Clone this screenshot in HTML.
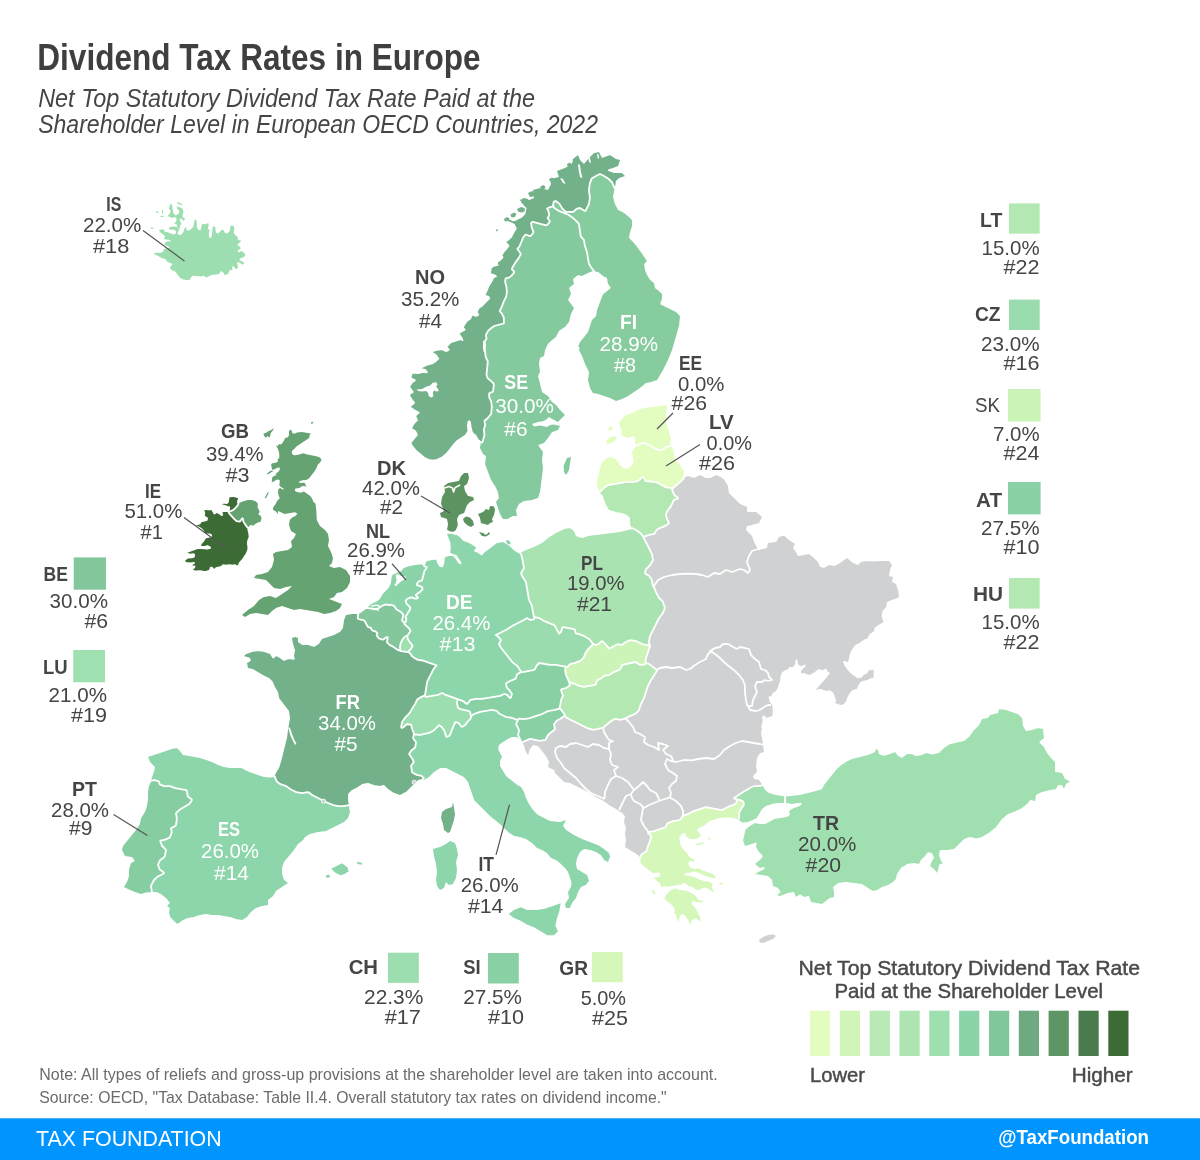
<!DOCTYPE html>
<html lang="en">
<head>
<meta charset="utf-8">
<title>Dividend Tax Rates in Europe</title>
<style>
html,body{margin:0;padding:0;background:#fff;}
body{width:1200px;height:1160px;position:relative;overflow:hidden;font-family:"Liberation Sans", "DejaVu Sans", sans-serif;}
#chart{position:absolute;left:0;top:0;width:1200px;height:1160px;display:block;font-family:"Liberation Sans", "DejaVu Sans", sans-serif;}
#chart text{stroke:none;}
</style>
</head>
<body>
<svg id="chart" width="1200" height="1160" viewBox="0 0 1200 1160">
<rect x="0" y="0" width="1200" height="1160" fill="#fff"/>
<g id="header">
<text x="37.3" y="70.1" font-size="37.8" textLength="443.2" lengthAdjust="spacingAndGlyphs" fill="#3f3f3f" font-weight="bold">Dividend Tax Rates in Europe</text>
<text x="38.2" y="106.7" font-size="26.4" textLength="496.8" lengthAdjust="spacingAndGlyphs" fill="#454545" font-style="italic">Net Top Statutory Dividend Tax Rate Paid at the</text>
<text x="38.2" y="132.8" font-size="26.4" textLength="559.8" lengthAdjust="spacingAndGlyphs" fill="#454545" font-style="italic">Shareholder Level in European OECD Countries, 2022</text>
</g>
<g id="map" stroke="#fff" stroke-width="1.8" stroke-linejoin="round">
<path id="grey" fill="#cfd1d2" d="M554.0,771.1L553.3,771.5L553.1,772.1L553.4,772.6L563.4,782.6L563.9,782.9L569.7,783.9L589.5,793.8L595.5,797.7L601.5,800.8L608.5,805.7L615.5,809.8L619.5,812.7L620.6,812.9L624.0,816.3L623.1,822.3L625.1,828.1L624.1,833.9L625.1,840.0L624.1,846.9L624.5,847.8L634.5,853.7L638.2,856.5L639.1,860.1L639.1,861.0L639.4,861.7L640.1,861.9L647.1,860.9L647.8,860.5L656.8,845.5L662.6,836.7L688.4,820.8L700.2,815.9L715.1,814.9L730.5,812.7L742.5,804.7L752.5,797.7L763.6,786.6L763.9,786.1L762.7,783.5L759.7,779.5L759.2,779.1L754.7,778.2L754.0,776.2L757.6,772.6L757.9,771.9L756.9,766.0L757.9,758.3L760.6,753.8L764.2,752.9L764.7,752.5L764.9,751.9L763.9,743.9L761.9,733.0L762.9,728.2L762.7,727.5L762.1,727.1L763.6,720.5L763.0,717.3L763.9,716.4L765.3,718.2L766.2,718.6L769.7,717.8L773.4,716.2L773.6,709.0L772.9,704.2L770.8,701.8L769.6,698.1L769.6,697.0L770.5,697.8L771.1,697.8L771.5,697.4L773.4,693.6L776.1,692.1L778.1,689.5L780.9,681.2L781.6,675.8L782.8,672.8L785.8,671.0L789.1,669.7L789.6,669.0L789.8,667.7L790.4,668.4L791.0,668.4L793.6,667.7L794.2,667.3L796.2,664.0L796.3,660.4L796.6,660.4L797.2,665.0L797.8,665.7L801.1,667.0L801.8,667.0L804.9,665.5L800.6,670.0L799.9,673.4L800.0,674.0L800.4,674.4L801.0,674.4L804.0,673.8L806.6,675.1L810.0,675.8L810.6,675.7L814.0,673.6L818.9,669.9L821.1,671.0L821.7,671.1L824.4,670.4L825.8,669.6L826.7,671.9L827.1,672.4L828.8,673.2L824.2,679.0L820.9,682.3L814.8,689.4L814.6,690.1L815.0,690.7L815.7,690.9L819.5,689.9L822.6,690.5L825.8,691.8L829.4,691.2L831.6,692.3L833.4,694.7L834.0,697.8L835.2,700.9L834.1,702.5L834.0,703.3L834.6,703.8L837.2,704.5L839.8,705.8L840.4,705.9L843.7,705.2L844.3,704.9L846.9,701.5L848.4,697.3L849.7,694.8L851.6,692.2L854.0,690.4L857.1,689.8L857.8,689.3L859.1,686.0L860.9,682.9L863.2,681.8L867.4,681.0L871.3,679.1L873.9,678.4L874.3,678.1L874.5,677.6L874.5,669.5L874.2,668.9L873.5,668.7L868.8,669.3L868.2,669.8L866.4,672.8L863.6,673.7L861.1,676.7L857.8,677.3L854.1,674.8L850.9,672.2L847.6,668.3L845.0,664.4L844.1,662.1L844.8,661.8L847.2,663.0L847.9,663.0L848.4,662.6L849.8,659.7L850.4,655.7L851.7,651.9L853.7,648.7L856.1,645.6L859.5,644.2L864.7,640.3L868.0,639.0L868.4,638.5L870.3,634.7L874.1,632.2L874.5,631.7L875.7,628.0L879.5,625.5L884.1,622.9L884.5,622.4L884.5,621.8L882.6,616.6L883.2,611.8L887.0,607.3L887.8,602.7L894.1,600.2L899.4,597.8L899.8,597.4L899.9,596.9L898.9,589.9L896.9,583.7L896.4,583.2L893.0,581.5L893.9,577.2L893.8,576.5L893.2,576.1L890.0,575.3L890.9,570.2L892.8,565.3L892.7,564.5L889.7,560.5L889.0,560.1L881.9,560.1L874.0,560.7L865.8,560.1L860.8,561.1L857.8,563.9L853.5,562.2L847.6,557.3L847.0,557.1L846.5,557.3L839.5,562.2L834.8,565.1L829.1,564.1L828.5,564.2L823.9,567.0L820.7,566.2L818.6,561.4L814.6,557.3L809.6,553.3L808.8,553.1L798.5,555.0L796.7,551.5L794.1,547.9L795.8,544.4L795.9,543.8L795.5,543.3L789.5,539.3L784.6,534.9L783.8,534.7L778.8,536.1L778.2,536.5L775.5,541.2L767.9,542.1L767.4,542.3L767.1,542.8L766.2,547.3L760.0,548.7L758.6,548.2L755.8,543.6L752.8,535.7L747.0,529.7L747.7,526.8L752.2,525.9L759.2,523.9L759.8,523.4L762.8,517.4L762.9,516.8L762.6,516.3L756.6,511.3L756.0,511.1L747.9,511.1L747.9,507.0L747.4,506.2L740.5,503.2L729.8,492.6L728.8,485.6L724.4,478.2L721.8,476.9L721.8,476.6L721.3,476.2L716.3,474.2L715.5,474.2L710.8,477.1L706.2,477.1L700.4,474.2L699.6,474.2L693.9,477.0L688.3,475.1L687.7,475.2L682.7,477.1L671.8,479.1L671.3,479.5L649.3,509.5L624.3,544.5L624.1,545.1L629.1,599.8L599.2,659.5L564.3,699.4L521.4,741.0L521.1,741.4L523.2,746.3L525.1,752.3L527.3,755.5L527.8,755.9L528.4,755.8L528.9,755.3L530.8,749.4L533.4,746.0L537.5,746.8L545.2,756.5L548.1,762.1L547.1,766.8L547.2,767.4L547.6,767.8Z"/>
<path id="CY" fill="#cfd1d2" stroke="none" d="M759.0,940.0L763.0,937.0L768.0,935.0L774.0,934.4L776.0,936.0L773.0,939.0L763.0,943.0L760.0,942.4Z"/>
<path fill="none" d="M653.0,587.0L658.0,580.0L664.0,577.0L672.0,575.0L680.0,574.0L688.0,573.6L696.0,574.0L702.0,575.0L708.0,577.0L714.0,573.0L720.0,574.0L726.0,570.0L732.0,572.0L740.0,569.0L744.0,570.0L748.0,573.0L750.0,570.0L747.0,562.0L749.0,556.0L752.0,551.0L758.0,549.0L760.0,549.6"/>
<path fill="none" d="M656.0,670.4L660.0,668.0L666.0,667.0L672.0,668.0L680.0,667.0L686.0,670.0L690.0,669.0L695.0,665.0L700.0,662.0L706.0,659.0L708.0,654.0L712.0,651.0L710.0,651.0L715.0,648.0L720.0,647.0L723.0,644.0L728.0,644.0L733.0,647.0L737.0,649.0L740.0,647.0L745.0,648.0L749.0,649.0L751.0,655.0L755.0,659.0L759.0,662.0L761.0,669.0L765.0,670.0L768.0,673.0L769.0,677.0L772.0,680.0L768.0,681.0L765.0,680.0L762.0,682.0L757.0,682.0L755.0,686.0L757.0,692.0L755.0,696.0L753.0,700.0L752.0,706.0L749.0,706.0L748.0,706.0"/>
<path fill="none" d="M710.0,651.0L715.0,654.0L720.0,658.0L725.0,663.0L730.0,667.0L735.0,671.0L739.0,675.0L743.0,680.0L745.0,686.0L745.0,693.0L746.0,700.0L747.0,705.0L748.0,706.0L750.0,710.0L756.0,711.0L760.0,710.0L764.0,707.0L768.0,705.0L771.0,705.0"/>
<path fill="none" d="M671.0,761.0L676.0,762.0L684.0,760.0L692.0,760.4L698.0,759.0L706.0,758.0L714.0,759.0L720.0,755.0L724.0,750.0L730.0,746.0L736.0,743.0L742.0,741.0L748.0,742.0L754.0,743.0L760.0,744.0L764.0,745.0"/>
<path fill="none" d="M625.0,718.0L629.0,722.0L633.0,727.0L635.0,732.0L640.0,734.0L645.0,737.0L644.0,742.0L648.0,745.0L654.0,747.0L659.0,750.0L658.0,743.0L663.0,744.0L668.0,746.0L663.0,750.0L666.0,754.0L671.0,756.0L673.0,760.0L671.0,761.0L667.0,759.0L665.0,764.0L668.0,770.0L673.0,773.0L677.0,776.0L676.0,781.0L672.0,784.0L669.0,788.0L671.0,793.0L670.0,797.4L676.0,801.0L681.0,806.0L683.0,811.0L683.0,816.4"/>
<path fill="none" d="M670.0,797.4L665.0,799.0L659.0,801.0L654.0,803.0L649.0,805.0L644.0,808.0L643.0,808.0L642.0,814.0L641.0,820.0L644.0,826.0L647.0,830.0L649.0,833.0"/>
<path fill="none" d="M644.0,808.0L640.0,804.0L634.0,801.0L632.0,798.0L631.0,794.0L634.0,790.0L639.0,786.0L643.0,782.0L647.0,786.0L650.0,790.0L656.0,793.0L659.0,799.0L659.0,801.0"/>
<path fill="none" d="M619.0,810.0L621.0,806.0L624.0,800.0L626.0,796.0L631.0,794.0"/>
<path fill="none" d="M634.0,790.0L631.0,786.0L628.0,782.0L622.0,778.0L616.0,776.0L611.0,779.0L608.0,785.0L605.0,792.0L604.4,799.0"/>
<path fill="none" d="M616.0,776.0L614.0,770.0L618.0,767.0L612.0,765.0L610.0,760.0L611.0,754.0L609.0,749.0L604.0,748.0L599.0,745.0L593.0,744.0L588.0,747.0L582.0,745.0L576.0,743.0L570.0,744.0L566.0,747.0L560.0,746.0L556.0,748.0L555.0,752.0L557.0,758.0L561.0,763.0L564.0,768.0L570.0,773.0L576.0,778.0L581.0,784.0L586.0,789.0L591.0,793.0L598.0,796.0L604.4,799.0"/>
<path fill="none" d="M603.0,727.0L604.0,732.0L607.0,737.0L609.0,740.0L613.0,741.0L609.0,743.0L609.0,749.0"/>
<path id="FR" fill="#73b18a" d="M273.2,776.6L273.2,777.3L275.5,782.7L279.5,785.7L285.6,787.8L289.6,790.8L295.6,793.8L301.9,794.9L307.8,794.0L311.6,796.8L327.6,804.8L332.7,806.8L338.0,807.9L344.2,807.9L349.2,806.9L349.7,806.6L349.9,805.4L348.9,799.9L348.9,794.4L352.5,790.7L358.4,787.8L362.4,784.9L367.9,783.9L373.7,785.9L379.9,786.9L383.7,786.0L387.5,789.7L393.5,793.7L399.7,795.9L400.4,795.8L406.6,792.6L418.5,780.8L421.6,780.0L422.2,781.1L423.0,781.5L423.7,781.1L425.7,778.5L425.9,777.9L425.6,777.4L422.6,774.4L417.3,773.1L413.8,771.4L413.0,766.2L415.7,762.5L415.8,761.6L413.8,757.6L411.1,754.0L412.7,751.6L416.5,748.7L416.9,748.1L417.9,742.1L417.7,741.5L415.0,737.8L415.9,733.8L415.8,733.2L413.9,728.7L412.9,723.8L412.2,723.1L407.2,722.1L406.4,722.3L403.4,724.8L403.8,722.4L406.7,718.6L410.8,714.5L416.8,704.5L418.7,700.6L421.4,698.8L426.7,696.5L428.9,682.3L434.8,670.5L438.7,665.6L438.9,664.8L438.3,664.2L424.3,659.1L419.1,657.6L418.4,657.6L418.1,658.0L415.2,656.3L414.2,655.4L410.1,650.9L409.6,650.7L401.6,649.5L398.7,648.3L393.6,644.9L391.0,643.6L388.9,641.9L389.7,636.8L389.5,636.1L388.9,635.8L386.4,635.3L385.7,635.5L382.6,637.8L380.3,637.1L378.6,635.2L379.3,633.0L379.3,632.5L379.0,632.1L376.4,629.9L373.5,629.0L372.4,626.8L371.8,626.3L369.1,625.5L365.9,619.4L365.3,619.0L359.6,617.4L359.9,614.0L359.6,613.3L358.9,613.1L352.0,613.1L345.9,614.1L345.2,614.7L343.2,619.7L342.1,627.7L339.4,631.3L333.7,634.2L321.7,638.1L321.2,638.5L318.3,643.3L313.9,646.0L308.3,644.1L302.3,644.1L298.9,641.5L298.9,638.0L298.7,637.5L298.3,637.1L295.3,636.1L294.7,636.1L291.7,637.1L291.2,637.5L291.1,638.1L292.1,644.1L294.1,650.1L293.1,655.9L293.8,658.9L288.1,658.1L284.1,659.9L280.4,657.2L276.4,655.2L275.9,655.1L273.2,657.5L270.8,653.5L270.3,653.1L264.3,651.1L258.1,650.1L251.7,651.1L245.4,653.4L243.4,655.4L243.1,655.9L243.2,656.5L243.7,656.9L249.3,658.7L249.9,660.5L246.6,662.2L246.2,662.6L246.1,663.2L247.1,668.2L247.8,668.9L252.7,669.9L262.5,675.8L268.5,678.7L272.2,682.5L274.2,687.5L277.1,692.3L278.3,698.5L288.1,711.4L289.1,718.0L287.1,729.9L286.1,737.8L280.1,761.7L278.2,767.6L275.2,772.5Z"/>
<path id="FR_corse" fill="#73b18a" stroke="none" d="M442.0,812.0L446.0,809.0L452.0,807.0L453.0,802.0L455.0,814.0L454.0,820.0L450.0,832.0L448.0,833.0L444.0,830.0L443.0,824.0L441.0,818.0Z"/>
<path id="IT" fill="#8dd5aa" d="M415.1,732.7L414.5,732.9L414.1,733.4L413.1,737.8L413.3,738.5L416.0,742.2L415.2,747.5L411.3,750.5L409.1,754.0L412.2,758.5L413.9,761.9L411.3,765.5L411.1,766.1L412.1,772.1L412.6,772.8L416.8,774.9L421.6,775.8L423.8,778.1L422.3,780.1L422.1,780.6L422.3,781.2L422.9,781.5L423.5,781.4L429.5,777.8L434.6,772.7L440.3,768.9L445.8,768.9L463.4,777.7L467.2,782.4L473.4,800.6L489.4,816.6L499.4,824.7L507.5,832.7L513.9,836.9L519.8,837.9L525.6,839.8L531.4,843.7L536.4,848.6L541.6,850.8L546.4,853.7L550.3,858.6L555.5,860.8L560.4,864.7L564.3,868.6L567.2,872.4L570.7,882.9L570.1,886.7L567.2,891.5L567.1,892.1L568.1,897.8L564.3,903.5L564.1,904.2L565.1,908.2L565.4,908.7L566.0,908.9L570.5,908.7L572.8,903.5L576.9,898.3L578.8,892.4L581.6,887.7L586.3,885.8L589.7,881.5L589.9,880.7L587.9,874.7L587.5,874.2L577.8,868.4L576.9,864.0L577.9,858.3L580.7,852.6L584.2,850.0L589.8,850.9L595.6,852.8L600.3,855.7L603.6,860.8L607.6,862.8L608.3,862.8L608.8,862.3L610.8,857.3L610.9,856.8L609.9,852.8L609.6,852.3L604.6,848.3L598.5,844.3L582.4,838.2L574.4,834.2L566.6,829.3L564.1,825.9L566.8,820.4L566.9,819.7L566.4,819.2L565.7,819.1L559.9,821.1L550.3,820.1L538.5,814.3L533.7,809.4L529.8,803.5L526.8,797.7L524.8,791.5L521.8,786.5L516.5,783.3L506.7,775.4L500.9,765.8L500.9,761.2L502.8,757.4L502.8,756.6L499.0,748.9L499.8,745.5L503.5,742.7L508.4,739.8L512.2,737.9L515.8,737.9L519.6,739.8L521.0,739.9L521.6,739.7L521.9,739.2L521.8,738.6L519.9,734.9L520.9,730.2L520.8,729.6L518.0,724.0L519.8,720.0L519.8,719.3L519.3,718.8L512.3,716.2L506.3,715.1L500.5,712.3L497.2,709.1L491.9,708.1L479.9,710.1L473.5,712.2L469.5,714.8L469.1,715.6L469.1,717.6L466.4,720.4L464.4,723.4L462.2,724.8L459.7,721.5L459.2,721.1L455.2,720.1L454.6,720.2L454.2,720.6L452.2,724.7L448.3,734.3L447.5,734.7L445.7,729.5L442.5,725.3L439.5,723.3L438.9,723.1L438.4,723.4L432.5,729.3L428.7,731.2L419.9,733.1Z"/>
<path id="ES" fill="#8dd5aa" d="M147.2,757.3L149.4,762.6L154.0,767.3L153.1,771.7L151.1,776.8L150.1,781.4L150.3,782.2L151.1,782.5L154.9,781.9L157.3,782.7L158.1,785.3L158.7,785.8L163.7,787.8L169.8,787.9L174.8,789.9L185.2,791.8L186.1,797.1L186.5,797.7L189.8,800.2L188.4,802.3L178.5,808.2L174.4,812.4L174.1,813.1L175.1,819.0L174.2,824.4L169.5,827.2L169.2,827.7L169.1,828.2L170.1,831.9L168.3,836.3L163.7,838.1L158.8,839.1L158.2,839.5L158.1,840.3L160.1,846.3L164.0,850.3L163.2,855.5L158.4,859.3L156.2,864.7L156.2,865.3L158.2,870.3L161.3,872.8L156.4,875.4L152.4,879.4L149.2,885.6L149.1,886.1L150.1,892.1L150.4,892.7L151.0,892.9L155.8,892.9L160.5,894.8L165.4,898.6L168.8,902.9L166.4,905.4L166.1,906.1L166.5,906.7L169.0,908.4L168.1,912.2L169.1,917.2L176.4,924.6L176.9,924.9L179.5,923.7L183.4,920.8L188.2,918.9L194.1,917.9L200.2,915.9L206.0,914.9L211.9,915.9L217.9,915.9L229.8,917.9L235.9,919.9L241.9,920.9L242.5,920.8L247.5,917.8L251.6,912.6L256.4,908.8L262.2,906.9L268.1,905.9L268.7,905.6L268.9,905.0L268.9,900.4L273.6,896.7L276.7,891.6L288.5,883.7L288.9,883.0L288.5,882.3L284.8,879.4L282.9,873.9L282.9,868.1L284.8,862.4L294.7,850.6L298.7,844.6L303.6,840.7L305.6,837.7L310.3,834.8L318.2,832.9L326.4,831.8L344.4,822.8L348.9,818.3L350.9,812.3L349.9,805.9L349.5,805.3L348.8,805.1L343.9,806.1L338.1,806.1L333.3,805.1L328.4,803.2L312.5,795.2L308.5,792.3L307.9,792.1L302.0,793.1L296.3,792.1L290.5,789.2L286.3,786.1L280.4,784.2L276.7,781.4L274.8,776.7L274.4,776.2L273.9,776.1L270.0,776.7L264.2,776.1L252.3,772.2L247.4,770.2L242.0,767.1L230.1,767.1L224.2,766.1L218.3,764.2L212.3,761.1L200.3,757.1L183.5,754.2L180.6,750.4L177.6,747.4L176.8,747.1L171.7,748.1L147.7,756.1L147.2,756.6Z"/>
<path id="PT" fill="#87cda2" d="M150.9,780.7L150.2,781.2L148.1,785.9L147.1,791.9L147.1,798.9L146.1,805.8L144.2,811.6L140.1,817.9L139.1,823.7L135.3,829.5L122.3,845.4L121.1,849.8L121.2,850.4L124.2,856.4L124.9,856.9L131.5,857.8L133.6,860.7L130.6,862.2L130.1,862.8L128.1,869.8L128.1,875.9L126.2,881.6L123.2,886.5L123.1,887.3L123.6,887.8L127.6,889.8L134.6,892.8L140.7,894.9L141.3,894.9L146.2,893.3L151.1,892.9L151.7,892.6L151.9,891.9L150.9,886.1L153.7,880.5L157.5,876.7L163.4,873.8L163.8,873.4L163.9,872.8L163.5,872.3L159.7,869.4L158.0,865.0L159.7,860.6L164.6,856.7L164.9,856.1L165.9,850.1L165.6,849.4L161.8,845.5L160.2,840.7L164.3,839.8L169.3,837.8L169.8,837.3L171.8,832.3L171.0,828.4L175.5,825.8L175.9,825.1L176.9,819.1L176.0,813.3L179.6,809.7L189.5,803.8L191.7,800.5L191.9,799.8L191.5,799.3L187.8,796.5L186.9,790.9L186.6,790.4L186.1,790.1L175.3,788.1L170.0,786.1L164.2,786.1L159.7,784.3L158.9,781.7L158.3,781.1L154.9,780.1Z"/>
<path id="GR" fill="#d6f7ba" d="M639.2,861.3L640.2,864.0L642.7,866.5L652.8,874.1L653.5,874.2L657.5,873.4L659.5,873.9L658.6,875.9L654.0,876.6L653.5,876.9L653.3,877.4L653.4,878.0L655.3,880.7L659.3,883.9L660.8,887.8L661.4,888.4L662.2,888.2L664.4,886.8L668.5,887.6L682.7,885.0L684.2,883.7L687.8,886.5L692.9,888.3L697.4,891.7L702.0,889.2L705.7,888.5L713.7,893.3L714.4,893.4L715.0,892.8L715.0,892.1L712.6,887.4L713.4,883.5L713.3,882.9L712.8,882.5L708.7,880.8L703.6,880.0L698.7,878.3L693.5,875.8L685.2,874.4L685.4,874.2L694.9,872.6L699.7,874.2L704.7,876.7L709.7,878.4L714.9,879.2L715.4,879.1L715.8,878.7L716.7,876.5L716.5,876.0L713.6,873.3L703.7,870.0L698.7,867.5L698.1,867.5L695.0,868.2L690.6,866.8L689.3,864.1L689.8,861.9L693.2,862.5L694.0,862.3L695.6,860.6L695.9,859.9L695.4,859.2L690.6,856.8L685.7,850.3L682.4,847.0L680.9,843.1L680.1,837.7L682.3,834.9L684.4,833.8L685.2,836.5L688.2,839.2L693.2,840.1L698.5,839.2L701.5,836.5L701.7,836.0L700.0,832.1L697.9,830.0L699.7,828.3L703.9,826.6L710.4,821.7L713.6,820.9L718.6,819.2L723.4,818.4L729.9,818.4L734.7,819.2L738.5,821.7L739.1,821.9L739.6,821.7L739.9,821.1L740.9,815.1L740.9,810.3L742.8,807.4L744.8,803.4L744.9,802.9L744.6,802.4L741.6,799.4L737.2,798.1L736.5,798.3L736.1,798.9L736.4,799.6L737.0,800.3L736.2,803.4L732.6,805.2L727.6,807.2L721.9,810.1L705.7,807.1L693.7,811.1L687.6,814.2L682.7,816.2L679.5,820.2L672.9,821.1L667.7,823.2L667.2,823.6L665.4,827.3L653.8,831.1L648.8,832.1L648.3,832.5L648.1,833.1L648.4,833.7L649.5,833.9L651.0,836.2L650.1,840.7L648.1,845.7L646.3,851.4L641.5,854.2L641.1,854.7L639.1,860.7Z"/>
<path id="GR_pelop" fill="#d6f7ba" stroke="none" d="M664.2,898.3L666.7,894.2L670.0,890.8L675.0,888.3L680.0,890.0L686.7,890.8L691.7,893.3L695.8,895.8L698.3,900.0L704.2,901.3L701.7,902.5L695.8,902.0L692.5,900.8L691.7,904.2L695.0,907.5L697.5,911.7L700.0,916.7L700.8,921.7L695.8,918.3L693.3,919.2L690.8,921.7L690.3,925.8L688.3,920.0L685.8,916.7L683.3,914.2L680.0,915.0L679.2,919.2L678.3,921.7L676.7,918.3L675.8,914.2L674.2,913.3L675.0,909.2L673.3,906.7L670.0,903.3L666.7,900.8Z"/>
<path id="GR_i2" fill="#d6f7ba" stroke="none" d="M651.7,890.0L654.2,890.8L655.8,894.2L653.3,893.7Z"/>
<path id="GR_i3" fill="#d6f7ba" stroke="none" d="M695.8,843.7L700.0,843.0L703.3,842.0L704.2,843.3L700.0,844.7L696.7,845.3Z"/>
<path id="GR_i4" fill="#d6f7ba" stroke="none" d="M708.3,837.5L710.8,838.0L710.3,839.7L708.3,839.2Z"/>
<path id="GR_i1" fill="#d6f7ba" stroke="none" d="M719.0,882.4L723.0,883.2L723.0,884.8L719.4,884.0Z"/>
<path id="IS" fill="#9cdeaf" stroke="none" d="M153.3,253.2L156.9,252.8L160.6,252.8L163.3,251.4L163.8,249.1L167.0,248.2L169.8,247.7L167.9,246.3L164.7,245.0L164.7,242.7L167.9,241.3L171.1,241.8L169.8,239.9L163.8,239.0L165.2,236.3L163.3,234.4L160.6,232.6L158.8,230.3L161.5,229.4L163.8,229.4L164.7,231.7L167.0,232.1L170.7,233.5L174.3,234.4L176.2,233.0L175.7,230.8L173.4,229.4L170.7,229.8L168.8,228.9L169.8,227.1L173.4,226.6L177.1,227.1L179.4,228.9L177.5,233.5L178.9,234.9L181.7,234.4L183.5,231.7L184.4,228.5L186.3,227.1L186.3,229.8L188.1,230.8L190.8,229.4L193.1,227.1L194.0,223.4L194.5,219.8L196.3,219.8L196.8,223.4L196.8,227.1L198.2,229.8L200.5,230.3L201.4,227.1L201.8,224.3L203.7,223.9L205.5,224.3L208.3,223.0L208.7,225.3L207.8,228.5L209.6,230.3L208.7,233.5L209.2,237.2L211.0,238.1L211.9,235.3L212.8,226.6L215.1,226.6L216.0,233.0L218.3,233.5L220.2,231.2L222.5,229.4L223.8,230.3L224.8,233.0L227.5,233.5L229.8,230.8L230.7,225.3L233.9,226.2L234.4,229.4L233.5,232.6L235.3,235.3L237.6,236.7L238.0,239.9L241.3,240.4L239.4,242.7L237.1,245.0L239.9,246.8L240.8,248.6L237.6,250.5L238.5,252.8L241.3,250.9L244.5,253.2L245.4,255.5L243.5,257.3L240.3,258.3L239.4,260.1L244.5,262.8L242.6,264.7L239.4,262.4L236.7,262.4L237.6,264.7L238.0,267.9L235.8,269.3L233.9,266.5L232.1,266.5L232.5,269.7L229.3,270.6L228.4,273.4L224.8,275.2L223.4,272.5L221.1,271.1L219.3,273.8L215.6,274.8L211.9,274.8L206.4,277.5L203.7,275.7L201.4,276.6L192.7,275.7L190.8,277.5L189.9,279.8L186.3,280.1L182.6,279.3L179.8,277.5L175.3,271.5L172.5,270.6L170.2,268.8L170.2,266.5L172.5,264.7L171.6,263.3L167.5,261.9L165.6,259.2L162.4,258.3L155.1,254.6Z"/>
<path id="IS_wf" fill="#9cdeaf" stroke="none" d="M167.5,216.1L169.8,213.8L170.7,210.6L168.8,208.8L170.2,204.2L172.0,204.6L172.5,208.8L173.4,213.3L175.7,215.6L178.5,213.8L179.4,211.0L177.1,208.3L176.6,206.5L180.3,207.4L182.6,208.8L183.5,212.0L182.6,214.7L182.6,217.0L185.3,219.3L183.5,220.7L181.2,218.8L179.4,218.8L181.2,223.9L179.8,225.7L180.3,227.5L178.9,228.5L177.5,227.1L176.6,224.3L174.3,223.4L176.2,221.6L176.6,218.8L174.8,217.0L172.0,217.9Z"/>
<path id="IS_i1" fill="#9cdeaf" stroke="none" d="M156.0,211.0L157.4,211.3L158.8,213.2L156.9,212.9Z"/>
<path id="IS_i2" fill="#9cdeaf" stroke="none" d="M159.7,216.3L162.0,215.6L163.8,216.3L162.0,217.2Z"/>
<path id="IS_i3" fill="#9cdeaf" stroke="none" d="M176.6,201.9L179.4,202.8L182.6,204.2L181.2,204.9L178.0,204.0Z"/>
<path id="IS_i4" fill="#9cdeaf" stroke="none" d="M150.5,227.8L152.3,227.3L153.7,228.5L151.9,228.9Z"/>
<path id="IS_i5" fill="#9cdeaf" stroke="none" d="M162.0,209.7L162.9,210.1L163.2,213.8L162.2,213.3Z"/>
<path id="FI" fill="#87cc9f" d="M578.5,347.7L578.2,350.4L581.2,356.4L584.2,364.4L588.1,372.2L587.1,380.2L589.1,388.2L592.2,393.5L592.8,393.9L597.8,394.9L609.7,398.8L615.6,401.8L616.3,401.9L622.4,399.8L628.5,396.7L640.5,388.7L646.4,383.8L651.3,382.9L657.3,380.9L657.8,380.5L663.8,370.5L668.8,360.3L672.9,350.3L679.9,326.1L680.9,316.1L680.6,315.4L676.4,311.2L661.1,303.6L662.9,299.0L662.9,294.0L662.6,293.4L659.5,290.3L655.8,287.5L654.9,282.8L654.5,282.3L650.7,279.4L647.8,274.6L645.9,269.8L645.0,264.3L647.6,261.6L647.9,261.1L647.7,260.5L638.7,247.4L633.7,241.4L630.0,237.7L630.9,232.2L632.9,226.3L632.9,220.0L632.6,219.4L629.6,216.4L624.6,212.3L618.7,209.3L615.8,203.7L613.9,196.9L615.8,186.7L613.8,181.7L609.5,177.2L604.5,174.2L600.4,172.2L599.6,172.2L595.6,174.2L590.5,177.2L590.2,177.7L588.1,182.9L587.1,189.9L588.1,198.0L587.1,203.7L584.6,208.7L580.5,206.2L579.8,206.1L575.8,207.1L572.6,210.1L566.4,210.1L563.7,207.4L560.5,202.3L556.5,199.3L555.7,199.1L552.7,200.1L552.1,200.8L551.1,205.8L551.3,206.5L553.5,209.8L558.7,212.8L566.6,215.8L572.4,219.7L577.2,224.4L579.1,237.1L582.2,240.4L583.1,246.3L585.1,252.2L587.2,264.5L590.2,269.5L592.4,271.6L597.6,272.8L602.4,276.7L606.2,278.6L607.1,284.1L609.7,287.8L602.2,293.7L596.2,309.7L595.2,315.6L591.1,319.7L587.2,331.6L579.2,341.7L577.2,346.7L577.2,347.3L577.6,347.8Z"/>
<path id="SE" fill="#85ca9f" d="M480.9,440.8L480.4,440.9L480.1,441.5L479.1,447.9L479.2,448.4L482.2,454.4L485.0,456.4L484.2,464.3L490.2,480.3L494.2,486.5L497.1,492.3L498.0,497.8L495.3,501.5L495.1,502.3L499.2,514.5L502.2,519.5L503.0,519.9L508.0,519.9L513.2,516.9L517.0,516.9L517.7,516.6L517.9,515.9L516.9,510.1L519.7,504.6L524.3,501.9L532.3,500.9L538.3,498.9L538.9,498.3L540.9,492.1L543.9,468.1L542.9,460.0L543.9,452.1L543.7,451.5L539.4,445.5L544.7,443.6L548.7,438.5L552.6,432.8L558.3,430.9L558.8,430.4L560.8,426.4L560.8,425.6L559.1,422.2L565.6,415.6L565.9,415.0L565.6,414.4L560.7,409.4L556.7,404.4L552.7,401.4L548.7,395.5L542.8,391.4L539.0,376.1L540.9,371.9L539.9,364.0L540.8,358.6L544.4,356.8L544.9,356.1L545.9,350.3L548.7,344.5L552.6,340.7L556.5,337.7L559.7,331.6L565.7,327.6L569.9,322.2L571.8,314.3L574.8,308.4L574.7,307.5L569.1,299.9L571.8,294.4L571.9,293.7L570.1,288.3L574.6,284.7L574.9,283.8L574.0,279.4L578.2,276.0L581.8,276.9L582.4,276.8L588.4,273.8L593.3,271.8L593.8,271.5L593.9,270.9L593.6,270.4L591.7,268.4L588.9,263.7L586.9,251.9L584.9,245.8L583.9,239.9L580.8,236.6L578.9,223.9L578.6,223.4L573.5,218.3L567.5,214.3L559.4,211.2L554.6,208.3L553.2,206.2L553.3,205.4L552.9,204.9L552.3,204.8L549.1,205.5L545.5,207.3L545.0,207.8L545.1,208.5L546.8,212.0L547.3,215.2L545.6,218.4L547.7,221.4L546.1,223.4L532.8,219.9L532.0,220.1L529.6,221.9L529.3,222.7L529.9,227.5L531.6,232.1L529.9,234.2L525.1,232.6L524.7,232.9L521.5,236.8L517.9,245.6L515.7,247.9L515.4,248.4L515.5,249.0L517.3,252.0L518.8,254.0L516.7,257.7L513.7,261.9L510.6,267.0L510.0,269.4L510.2,270.3L512.1,272.1L510.2,274.4L508.1,276.0L504.7,276.6L504.2,276.9L503.9,277.4L503.3,281.6L504.5,286.7L505.1,291.4L504.6,295.9L502.2,300.6L500.4,305.5L498.0,310.9L498.1,311.9L500.4,314.8L502.1,318.1L502.1,322.1L493.7,324.3L489.8,326.8L486.8,329.6L484.1,334.3L484.0,334.9L484.6,338.5L482.7,341.3L482.0,346.6L483.4,352.3L484.0,357.5L486.0,361.6L484.7,375.1L486.4,379.5L489.7,382.2L492.0,384.5L491.4,390.3L487.9,392.1L487.4,392.9L487.4,397.5L489.4,401.8L490.0,406.9L489.4,413.2L486.3,416.9L483.0,419.6L482.7,420.4L483.3,425.5L482.0,429.7L482.7,434.9Z"/>
<path id="NO" fill="#73b18a" d="M464.6,329.7L459.1,332.6L458.6,333.1L458.8,333.9L461.4,337.8L462.5,340.1L461.4,339.3L460.6,339.2L450.9,342.1L446.9,346.1L446.6,346.7L446.8,347.3L448.8,349.8L446.1,351.1L442.0,349.2L436.5,349.9L432.5,351.2L432.0,351.7L431.9,352.3L432.3,352.8L436.1,355.4L438.3,358.7L436.2,360.7L432.4,363.3L427.0,364.6L421.7,367.3L421.2,367.8L421.3,368.5L421.8,369.0L425.5,370.2L426.9,372.3L423.2,371.9L418.0,373.2L412.8,372.6L412.2,372.7L411.9,373.2L410.5,377.2L410.6,377.8L411.0,378.3L414.9,380.3L412.0,382.3L409.2,386.9L409.3,387.4L412.8,392.0L409.6,394.1L409.2,394.6L409.2,395.3L411.3,399.3L414.1,402.8L410.1,406.2L409.8,407.0L410.2,407.6L414.2,410.3L418.6,412.5L415.4,415.6L415.2,416.1L417.0,420.1L413.3,423.9L411.3,427.9L411.2,428.5L411.6,429.0L415.4,431.6L417.0,434.8L410.7,442.4L410.6,443.4L412.0,446.2L415.5,450.4L424.2,457.7L428.6,459.9L432.9,460.6L437.2,459.8L442.5,457.2L446.7,453.7L454.8,443.6L457.4,441.0L465.6,435.5L468.3,431.5L468.4,430.9L467.8,425.6L468.4,422.0L469.3,421.1L470.0,422.5L470.7,427.2L472.0,432.5L472.3,433.0L475.5,435.6L477.7,439.7L481.0,442.4L481.6,442.6L482.1,442.4L482.5,441.9L484.5,434.9L483.8,429.7L485.1,425.5L484.5,420.7L487.6,418.2L491.2,413.7L491.8,406.8L491.2,401.4L489.2,397.3L489.2,393.4L492.7,391.7L493.2,390.9L493.8,384.3L493.6,383.5L490.9,380.9L487.7,378.3L486.5,374.7L487.8,361.5L485.8,357.2L485.1,351.9L483.8,346.7L484.4,341.7L486.3,339.3L486.5,338.6L485.9,334.9L488.3,330.6L490.9,328.3L494.3,326.0L503.3,323.6L503.7,323.3L503.9,322.8L503.8,317.5L502.0,313.9L499.8,311.2L502.0,306.2L503.8,301.4L506.3,296.3L506.9,291.3L506.3,286.4L505.1,281.7L505.6,278.3L509.0,277.6L511.6,275.6L514.0,272.6L514.2,272.0L513.9,271.4L511.9,269.4L512.3,267.6L515.2,262.9L518.3,258.6L520.7,254.4L520.6,253.4L517.4,248.7L519.5,246.5L523.1,237.5L525.6,234.5L529.9,236.1L530.4,236.1L530.9,235.8L533.3,232.8L533.4,231.9L531.7,227.2L531.1,223.0L532.8,221.8L546.2,225.3L547.2,225.0L549.6,221.9L549.8,221.4L549.6,220.8L547.6,218.3L549.0,215.8L549.2,215.2L548.6,211.6L547.1,208.5L549.8,207.2L552.2,206.7L552.9,206.0L553.8,201.7L555.8,201.0L559.3,203.6L562.4,208.6L565.4,211.6L566.0,211.9L573.0,211.9L573.6,211.6L576.5,208.8L579.9,208.0L584.5,210.8L585.3,210.9L585.8,210.4L588.9,204.1L589.9,197.9L588.9,190.0L589.9,183.2L591.7,178.6L596.4,175.8L600.0,174.0L603.6,175.8L608.4,178.7L612.2,182.5L614.2,187.3L614.7,187.9L615.5,187.8L615.9,187.1L616.8,181.4L619.5,178.8L625.3,176.9L625.8,176.5L625.9,175.9L625.6,175.4L622.6,172.4L622.0,172.1L614.2,172.1L608.9,170.1L613.3,168.8L618.3,166.8L618.9,166.3L620.9,160.3L620.8,159.6L620.2,159.1L616.4,158.2L610.5,154.3L609.7,154.2L602.4,156.9L599.8,151.6L599.4,151.2L598.8,151.1L593.4,152.4L587.4,158.4L583.9,162.7L580.8,159.5L578.8,154.7L578.2,154.1L577.4,154.3L572.4,158.3L572.1,158.8L571.2,163.4L564.6,167.2L556.7,170.2L556.2,170.6L556.1,171.3L557.8,176.3L549.8,178.1L549.2,178.5L549.1,179.2L550.1,183.9L547.5,189.0L539.8,187.1L532.8,189.1L532.2,189.5L532.1,190.1L533.0,197.4L528.4,199.3L523.5,203.2L522.6,203.7L522.0,204.3L522.3,205.1L525.6,208.4L524.5,213.7L521.2,217.0L516.5,219.3L513.3,220.4L508.7,218.1L505.1,216.9L504.3,217.0L503.9,217.7L504.2,218.4L507.8,222.0L513.8,224.5L515.9,228.6L513.7,231.8L511.3,236.5L507.9,239.9L505.6,241.1L505.1,241.8L505.4,242.5L508.5,245.6L506.5,248.6L504.1,251.1L501.7,254.7L501.6,255.6L502.5,257.4L499.5,260.5L497.2,261.6L496.7,262.1L496.7,262.7L497.6,264.8L493.4,265.9L491.0,267.7L490.7,268.3L490.1,273.2L490.2,273.8L490.7,274.1L494.7,275.3L495.9,276.5L493.7,277.2L493.2,277.7L490.8,282.5L488.4,286.0L487.1,289.8L484.7,294.6L484.7,295.3L485.2,295.9L488.5,296.9L489.2,298.4L482.5,305.2L478.7,307.9L476.9,311.5L476.9,312.3L478.2,315.0L475.9,315.8L472.5,314.7L471.8,314.7L471.4,315.2L470.3,318.6L466.7,321.0L464.2,324.7L463.0,327.2L462.9,327.7L463.2,328.2Z"/>
<path id="SE_gotland" fill="#85ca9f" stroke="none" d="M567.0,458.0L571.0,457.0L569.0,470.0L566.0,475.0L564.0,472.0L563.6,466.0Z"/>
<path id="DK_jutland" fill="#5c9361" d="M446.2,530.4L448.8,531.9L452.8,532.9L453.5,532.7L456.5,530.7L458.8,525.3L457.9,519.1L459.7,515.7L464.3,513.8L464.9,513.3L467.8,505.5L470.5,502.7L474.4,500.8L474.8,500.3L474.9,499.7L473.9,496.7L473.2,496.1L468.6,495.2L465.9,490.7L465.0,486.4L467.5,484.7L467.9,484.3L469.9,478.3L468.9,472.8L468.6,472.3L468.0,472.1L464.0,472.1L463.4,472.4L460.2,475.7L458.3,480.2L447.9,482.1L443.5,485.3L443.1,486.1L444.1,491.8L441.1,496.9L440.1,503.9L442.8,510.6L439.6,512.2L439.2,512.6L439.1,513.2L440.1,517.2L440.7,517.9L446.2,519.7L447.1,524.0L446.1,529.9Z"/>
<path id="DK_funen" fill="#5c9361" stroke="none" d="M463.0,519.0L466.0,516.4L470.0,517.6L473.0,521.0L474.0,525.0L471.0,527.0L467.0,525.0L464.0,522.0Z"/>
<path id="DK_zealand" fill="#5c9361" stroke="none" d="M478.0,514.0L483.0,512.0L486.0,509.0L489.0,510.0L490.0,506.0L494.0,506.4L495.0,510.0L494.0,515.0L492.0,519.0L493.0,522.0L490.0,523.0L488.0,525.0L481.0,523.0L480.0,518.0Z"/>
<path id="DK_lolland" fill="#5c9361" stroke="none" d="M479.0,532.0L483.0,533.0L486.0,535.0L489.0,532.0L490.0,534.0L486.0,536.4L482.0,536.0Z"/>
<path id="LV" fill="#e3fdc0" d="M635.2,444.6L633.2,448.5L631.3,451.5L631.1,452.1L632.1,458.1L633.0,461.8L630.4,465.4L626.8,468.0L623.5,467.2L620.7,464.5L618.5,460.3L614.5,457.3L610.2,456.1L609.6,456.2L605.6,458.2L601.1,461.7L599.1,467.7L598.1,473.8L596.1,480.0L596.2,486.4L599.2,493.4L599.8,493.9L600.6,493.6L604.6,489.7L608.4,486.9L626.1,483.9L632.1,483.9L638.1,482.9L642.7,479.4L644.2,482.4L644.9,482.9L655.7,483.9L659.6,485.8L664.5,488.8L669.8,489.9L671.0,489.9L671.6,489.6L675.6,485.7L680.6,481.7L683.6,478.6L683.9,478.1L684.9,472.1L684.8,471.6L682.7,467.5L676.8,459.6L674.9,454.8L674.3,449.5L670.9,444.7L670.9,438.0L670.7,437.4L670.1,437.1L651.8,435.1L637.8,439.1L637.2,439.7Z"/>
<path id="EE" fill="#e3fdc0" d="M667.9,405.1L667.6,404.3L666.9,404.1L643.9,407.1L637.7,409.1L631.7,412.2L625.4,414.4L618.4,421.4L618.1,422.2L619.2,426.4L621.0,430.1L620.1,433.8L620.4,434.6L623.8,437.9L628.8,438.9L629.5,438.7L632.1,437.0L634.1,437.6L634.1,442.3L635.1,445.3L635.7,445.8L636.4,445.8L640.3,443.8L643.9,442.9L648.6,444.8L653.5,447.8L657.6,449.8L662.0,449.9L662.5,449.7L666.4,446.8L670.7,445.6L671.9,437.7L667.9,425.8L666.5,419.9Z"/>
<path id="EE_saare" fill="#e3fdc0" stroke="none" d="M606.0,442.0L609.0,438.0L614.0,436.0L617.0,438.0L615.0,441.0L611.0,443.0L608.0,444.0Z"/>
<path id="EE_hiiu" fill="#e3fdc0" stroke="none" d="M608.0,428.0L611.0,426.4L613.0,428.0L611.6,430.4L609.0,430.4Z"/>
<path id="LT" fill="#b4e8b3" d="M599.4,492.4L599.1,493.0L599.4,493.6L602.2,496.5L603.2,500.3L605.2,505.3L608.2,510.5L608.8,510.9L615.8,512.9L621.8,513.9L626.5,515.8L629.1,518.4L629.1,523.0L630.1,527.2L630.6,527.8L634.6,529.8L639.4,532.7L642.1,535.4L642.1,536.0L642.5,536.7L643.3,536.9L649.2,534.9L654.2,533.9L654.8,533.4L656.7,529.7L660.4,527.8L665.3,525.8L668.5,523.7L668.9,523.2L668.8,522.6L666.9,518.7L665.9,514.1L667.8,510.5L670.8,506.4L672.8,502.4L673.7,499.8L677.2,498.9L677.8,498.5L677.9,497.8L677.5,497.3L674.7,495.4L672.8,491.7L671.9,488.7L671.1,488.1L665.3,487.1L660.4,484.2L656.1,482.1L645.6,481.1L643.8,477.6L643.2,477.1L642.4,477.3L637.6,481.2L631.9,482.1L625.9,482.1L607.9,485.1L603.5,488.3Z"/>
<path id="IE" fill="#3d6b35" d="M227.7,511.0L224.8,510.9L222.6,511.1L221.9,511.4L221.7,512.1L222.1,514.6L221.9,515.2L219.8,513.5L217.1,512.1L216.1,512.2L214.5,513.5L213.8,512.4L212.4,509.8L211.6,509.3L207.6,509.3L204.4,508.8L203.8,508.9L203.5,509.4L203.4,510.0L204.3,513.0L203.9,515.5L204.2,516.4L206.0,517.8L207.0,518.1L206.7,520.0L204.5,520.7L201.4,521.2L200.8,521.6L199.6,523.6L195.8,524.4L195.3,524.9L195.2,525.6L195.7,526.1L197.9,527.0L201.0,528.8L203.0,530.8L203.9,533.4L204.6,534.0L207.4,534.4L210.0,534.4L211.1,535.3L210.9,536.4L208.1,536.8L205.4,537.7L204.9,538.1L203.1,541.2L200.9,543.4L200.2,545.7L200.4,546.5L201.1,546.8L204.8,546.8L207.4,546.0L209.9,547.4L210.1,548.0L207.4,548.7L198.0,547.8L187.0,551.9L186.5,552.4L186.5,553.2L187.0,553.6L189.8,554.6L193.4,554.2L194.2,554.9L193.9,556.7L191.8,557.4L187.7,557.6L184.5,559.9L184.2,560.4L184.3,561.1L185.2,562.5L185.9,562.9L190.0,563.3L194.0,562.9L191.4,564.9L191.0,565.5L191.2,566.2L191.9,566.5L194.5,566.5L194.3,567.4L192.3,569.0L191.9,569.6L192.1,570.2L192.6,570.6L196.3,571.5L200.1,571.1L204.0,572.0L206.7,571.6L209.6,570.6L210.2,569.9L210.6,567.8L211.8,567.5L213.7,569.5L214.4,569.7L215.0,569.5L216.2,568.2L221.4,566.8L223.3,565.2L225.9,565.6L229.5,565.2L232.4,565.6L234.9,565.2L237.3,566.4L238.1,566.5L238.6,565.9L239.5,563.4L243.0,559.3L246.7,553.7L248.3,549.6L248.3,546.7L247.8,543.2L248.2,540.7L249.6,537.1L249.2,533.0L248.3,529.5L249.1,527.5L249.0,526.6L246.3,523.0L245.0,520.9L244.6,518.3L243.0,516.4L242.3,516.1L241.7,516.4L240.2,518.0L239.1,519.7L237.3,519.4L231.2,512.9L232.7,512.3L235.5,510.5L237.5,508.5L239.4,506.1L239.6,505.6L239.6,503.8L239.1,502.9L237.9,502.3L238.2,500.8L239.0,498.6L239.0,497.8L238.4,497.4L233.4,496.0L229.4,496.4L228.9,496.7L228.6,497.2L227.8,502.3L226.5,503.2L223.7,502.7L221.8,503.4L221.3,503.9L221.4,504.6L221.9,505.1L227.4,506.9L229.2,507.2L229.1,509.4Z"/>
<path id="GB_ni" fill="#66a373" d="M237.9,505.1L234.4,509.0L231.9,510.7L229.2,511.6L228.7,512.0L228.6,512.6L228.9,513.1L233.4,518.1L236.2,520.9L236.7,521.1L240.0,521.5L242.3,518.3L242.9,518.8L243.4,521.6L244.8,523.9L247.6,527.7L248.2,528.0L248.9,527.8L250.8,525.9L253.0,526.6L254.0,526.4L255.7,524.7L258.3,523.4L261.0,522.5L261.5,521.9L262.4,518.1L261.5,515.4L261.1,514.9L259.3,514.0L260.5,512.6L260.6,511.7L258.4,506.8L258.8,503.9L258.6,503.2L256.4,500.6L252.4,499.2L247.6,499.2L243.8,500.2L239.2,502.0L238.7,502.5Z"/>
<path id="GB" fill="#66a373" stroke="none" d="M275.9,445.0L277.6,445.9L279.3,444.1L281.0,444.6L282.8,442.4L285.3,438.1L287.9,437.2L289.2,434.7L288.8,432.1L290.1,429.5L291.8,430.8L292.2,432.9L294.8,433.8L297.0,432.5L301.7,432.1L310.8,433.4L309.5,435.5L309.1,438.1L296.1,446.7L294.4,448.9L292.2,450.6L291.8,453.2L293.1,454.9L295.3,455.3L299.1,454.5L303.4,453.2L307.3,454.5L316.4,456.2L319.8,457.5L321.6,459.7L320.3,462.2L317.7,464.8L316.4,468.3L314.2,471.7L309.1,478.2L306.5,479.9L302.6,480.3L299.6,481.2L298.7,482.5L301.7,482.9L304.3,482.5L306.5,486.4L303.9,485.9L301.3,486.4L299.6,488.1L295.3,488.5L294.8,490.7L297.0,492.0L300.9,492.8L303.9,491.6L310.3,495.9L312.1,498.4L313.4,501.9L315.5,503.6L316.4,511.4L316.8,520.0L320.0,526.0L325.0,530.0L328.0,534.0L329.0,540.0L328.0,546.0L331.0,552.0L333.0,558.0L332.0,563.0L329.0,566.0L334.0,568.0L340.0,567.0L346.0,570.0L350.0,576.0L350.0,582.0L347.0,588.0L342.0,592.0L337.0,593.0L334.0,597.0L329.0,599.0L342.0,604.0L340.0,608.0L336.0,611.0L330.0,613.0L324.0,614.0L318.0,612.0L300.0,609.0L294.0,610.0L282.0,606.0L276.0,608.0L272.0,611.0L268.0,615.0L256.0,613.0L250.0,614.0L245.0,617.0L242.0,615.0L248.0,610.0L254.0,606.0L259.0,600.0L264.0,597.0L270.0,596.0L276.0,598.0L288.0,590.0L292.0,586.0L286.0,587.0L280.0,589.0L274.0,588.0L266.0,580.0L254.0,578.0L256.0,575.0L262.0,574.0L268.0,572.0L272.0,567.0L274.0,560.0L273.0,554.0L276.0,552.0L288.0,550.0L292.0,547.0L291.0,541.0L294.0,538.0L296.0,534.0L291.0,531.0L289.0,525.0L289.7,520.0L292.2,517.4L295.7,515.7L297.4,513.5L294.8,512.2L284.5,514.0L278.4,510.9L277.6,514.0L275.9,511.4L272.8,509.7L273.3,507.1L275.0,504.9L277.6,500.2L279.7,498.4L278.0,493.3L278.4,489.0L280.2,488.1L283.2,489.8L283.6,488.5L280.6,486.8L279.3,485.5L279.7,482.1L279.7,479.9L277.2,479.5L271.6,482.5L272.4,476.9L275.0,475.6L276.7,475.2L275.4,473.9L278.4,471.7L279.7,470.0L279.7,467.4L277.6,467.8L275.0,469.1L272.4,470.0L271.6,467.4L271.1,464.0L273.3,463.1L275.9,462.7L278.0,461.4L277.6,459.2L279.3,457.9L279.3,454.5L278.9,451.9L278.0,449.3Z"/>
<path id="GB_i3" fill="#66a373" stroke="none" d="M263.4,433.4L265.9,432.9L268.1,431.2L270.7,430.3L273.7,428.2L272.8,430.8L270.7,432.9L270.3,435.5L269.4,437.7L267.7,435.9L265.9,437.7L264.2,435.9Z"/>
<path id="GB_i4" fill="#66a373" stroke="none" d="M266.4,474.3L269.0,471.7L271.6,470.4L273.3,470.9L268.5,473.9Z"/>
<path id="GB_i5" fill="#66a373" stroke="none" d="M264.7,498.0L266.8,494.1L268.1,491.6L268.5,493.3L266.8,496.7L265.5,498.6Z"/>
<path id="GB_i6" fill="#66a373" stroke="none" d="M310.8,422.6L312.5,421.7L313.4,423.0L311.6,423.9Z"/>
<path id="AT" fill="#89d1a5" d="M519.9,670.5L515.5,673.2L515.1,673.8L514.2,677.3L509.5,679.2L504.5,682.2L504.2,682.6L505.1,688.2L508.3,691.6L510.0,694.1L509.7,695.0L508.7,693.5L508.2,693.1L504.2,692.1L503.6,692.2L499.7,694.1L481.9,697.1L475.9,697.1L469.9,698.1L469.3,698.5L466.8,701.7L463.3,699.1L457.3,697.1L456.5,697.2L456.1,697.8L455.1,702.8L456.1,708.2L456.5,708.7L459.8,710.9L468.3,712.7L469.1,715.8L469.7,716.4L470.5,716.4L474.4,713.8L480.2,711.9L492.0,709.9L496.6,710.8L499.6,713.8L505.6,716.8L511.8,717.9L518.7,720.4L523.9,720.9L530.3,719.9L542.3,715.9L548.3,712.9L554.2,711.9L560.2,710.5L560.9,709.8L561.9,706.1L562.9,700.3L564.8,696.4L564.9,695.7L563.2,690.6L566.5,689.8L571.5,686.8L571.8,686.3L571.9,685.8L570.5,680.4L567.9,674.7L566.9,670.0L567.9,666.2L567.8,665.5L567.2,665.1L556.1,663.1L550.1,663.1L539.2,661.1L538.4,661.4L535.4,664.4L533.4,668.2L523.9,670.1Z"/>
<path id="HU" fill="#b4e8b3" d="M570.2,680.0L569.5,679.7L568.9,680.1L568.7,680.8L570.0,685.6L565.7,688.2L561.8,689.1L561.2,689.6L561.1,690.3L563.0,695.9L561.1,699.9L560.1,705.8L559.1,709.4L559.3,710.2L563.5,715.8L568.5,718.8L586.6,727.8L593.2,729.9L598.2,728.9L603.2,727.5L611.5,720.8L615.1,718.9L620.2,719.9L625.4,718.4L630.4,715.8L635.6,713.6L638.9,710.3L640.8,704.3L643.9,698.3L647.8,686.3L650.8,680.4L656.8,670.9L656.9,670.3L656.6,669.7L649.3,664.1L644.7,662.7L640.3,663.1L636.5,660.3L635.8,660.1L621.8,663.1L621.2,663.5L618.4,668.3L613.5,670.2L608.7,673.1L603.5,674.3L599.5,677.2L595.6,679.2L595.1,679.8L594.3,683.2L584.0,685.1L579.3,684.1L575.4,682.2L571.5,681.2Z"/>
<path id="PL" fill="#a8e3b1" d="M519.1,553.2L521.1,562.2L522.1,567.8L519.2,572.5L519.1,573.3L520.3,576.5L524.1,582.3L527.1,600.1L530.1,606.3L531.1,612.2L532.5,618.6L532.9,619.2L533.6,619.3L535.0,618.9L538.7,619.8L543.7,622.8L553.3,626.7L555.2,630.5L558.2,635.5L558.9,635.9L559.6,635.6L562.6,632.6L563.7,629.1L573.3,630.8L574.1,634.2L574.8,634.9L578.7,635.9L583.6,637.8L588.4,640.7L591.3,644.5L594.5,646.7L595.2,646.9L599.2,645.9L602.0,643.3L605.3,646.6L608.3,650.5L608.8,650.9L609.5,650.8L614.4,647.8L618.1,646.0L621.8,646.9L622.5,646.7L626.5,643.8L630.1,641.9L635.7,642.9L641.8,645.9L648.8,647.3L649.4,647.2L649.8,646.8L649.9,646.2L648.9,642.0L649.9,636.3L658.8,618.5L662.8,613.3L664.8,608.3L664.9,607.7L662.9,601.7L658.7,597.5L655.8,591.6L653.8,586.7L652.8,585.6L651.7,579.5L648.7,575.5L645.0,573.5L645.8,569.4L649.8,565.5L652.8,560.5L652.9,559.9L651.9,553.9L642.8,536.0L640.5,533.3L636.5,530.3L632.4,528.2L631.8,528.1L619.8,531.1L587.9,535.1L582.0,537.1L576.7,535.3L574.5,530.3L570.5,527.3L569.9,527.1L563.9,528.1L555.6,532.2L547.5,537.2L541.5,542.2L533.6,546.2L525.6,549.2L519.6,552.2L519.2,552.6Z"/>
<path id="NL" fill="#8bd4a9" d="M366.0,609.9L371.4,610.4L375.2,611.2L378.9,610.2L384.0,606.9L386.2,606.1L388.5,606.9L391.2,606.5L393.3,607.6L394.8,610.2L400.2,613.6L401.6,615.7L400.0,619.9L400.2,620.8L402.2,623.2L404.8,624.5L405.4,624.6L405.9,624.3L407.8,621.7L408.2,619.1L407.5,616.9L408.6,615.5L409.8,613.0L411.5,610.9L412.1,607.5L411.9,606.8L410.2,604.6L408.1,602.9L407.5,601.2L409.0,600.0L411.6,599.2L414.8,600.5L418.2,600.0L418.9,599.5L419.8,596.8L418.3,595.3L421.8,592.9L423.9,590.7L424.2,590.1L424.2,587.1L423.8,586.3L421.2,584.6L419.0,583.9L419.6,583.1L423.1,581.9L423.7,581.3L426.2,571.1L428.0,569.3L428.9,566.7L428.8,566.0L428.3,565.5L425.1,564.7L421.5,563.3L417.1,563.8L411.9,564.6L406.7,565.9L403.1,567.3L402.7,567.6L401.5,569.6L397.9,571.6L394.5,572.9L391.8,574.2L391.4,574.8L390.5,578.2L390.1,582.6L388.8,585.8L387.2,588.2L382.1,593.3L380.7,596.1L378.7,598.9L377.1,600.1L372.0,602.6L369.3,604.4L365.4,608.3L365.1,609.0L365.4,609.6Z"/>
<path id="BE" fill="#85c79d" d="M365.5,608.2L358.4,613.2L358.1,613.9L357.7,618.0L357.9,618.6L358.4,619.0L364.5,620.6L367.8,626.7L368.3,627.2L370.9,627.9L372.0,630.1L372.6,630.6L375.4,631.4L377.4,633.1L376.7,635.1L376.9,635.9L379.0,638.5L382.5,639.7L383.3,639.5L386.4,637.2L387.8,637.4L387.0,642.1L387.4,642.9L389.9,645.1L392.7,646.5L397.8,649.9L401.1,651.2L401.7,651.2L402.2,650.8L402.3,650.2L401.8,647.4L402.2,644.2L403.8,641.0L405.8,638.2L409.0,636.7L410.2,634.6L412.3,632.0L412.5,631.1L411.0,627.8L407.4,624.3L405.6,622.9L403.2,621.7L401.9,620.1L403.4,615.8L403.3,615.0L401.6,612.4L396.0,608.9L394.4,606.1L391.2,604.7L388.9,605.1L385.9,604.3L383.1,605.3L378.1,608.6L375.0,609.4L371.7,608.6L368.1,608.2Z"/>
<path id="SI" fill="#89d1a5" d="M518.5,718.8L516.2,723.6L516.2,724.4L519.1,730.1L518.1,734.8L518.2,735.4L520.2,739.4L521.2,741.9L521.7,742.4L522.4,742.4L525.4,740.8L530.1,738.9L540.2,740.9L545.2,739.9L545.8,739.4L547.7,735.5L550.6,732.7L554.5,729.7L554.9,728.8L554.0,724.2L556.6,720.7L560.5,718.7L564.5,715.7L564.9,715.1L564.7,714.5L560.7,709.1L559.8,708.7L553.8,710.1L547.9,711.1L541.7,714.2L529.8,718.1L524.0,719.1L519.1,718.7Z"/>
<path id="SK" fill="#cdf4b8" d="M591.4,643.4L587.4,647.4L584.3,651.5L582.2,656.5L579.5,659.2L574.7,661.1L569.8,662.1L566.1,665.8L565.1,670.2L566.1,675.2L568.8,681.0L570.8,682.9L574.7,683.8L578.8,685.9L583.8,686.9L595.2,684.9L595.9,684.2L596.8,680.6L600.5,678.7L604.4,675.8L609.5,674.8L614.4,671.8L619.3,669.8L619.8,669.5L622.6,664.8L635.8,662.0L639.5,664.7L640.1,664.9L644.5,664.5L645.0,664.2L645.3,663.7L645.9,658.2L649.8,646.7L649.8,646.0L649.2,645.5L642.3,644.1L636.4,641.2L630.1,640.1L629.6,640.2L625.6,642.2L621.8,645.0L618.2,644.1L617.6,644.2L613.5,646.2L609.2,648.8L606.6,645.4L602.6,641.4L602.0,641.1L601.4,641.4L598.5,644.2L595.2,645.0L592.5,643.3L591.9,643.1Z"/>
<path id="CZ" fill="#9adcae" d="M535.2,617.1L530.2,618.1L527.5,616.3L526.5,616.3L523.5,618.2L511.6,624.2L505.5,628.2L493.2,634.2L492.8,634.7L492.8,635.4L493.3,635.8L495.5,636.8L498.9,640.2L497.2,643.6L497.2,644.4L499.3,648.6L511.3,663.6L516.3,667.6L519.3,671.9L520.1,672.3L524.2,671.9L534.2,669.9L534.8,669.4L536.7,665.5L539.3,663.0L549.9,664.9L555.9,664.9L566.8,666.9L567.6,666.6L570.4,663.8L575.3,662.8L580.6,660.6L583.8,657.3L585.8,652.4L588.7,648.6L592.6,644.6L592.9,644.1L592.7,643.5L589.5,639.2L584.3,636.2L579.3,634.2L575.7,633.3L574.9,629.8L574.1,629.1L563.2,627.1L562.5,627.2L562.1,627.8L561.2,631.5L559.2,633.5L556.8,629.6L554.8,625.6L554.3,625.2L544.4,621.2L539.2,618.1Z"/>
<path id="CH" fill="#9cdeaf" d="M425.7,695.2L420.7,697.2L417.2,699.6L415.2,703.6L409.3,713.4L405.4,717.4L402.3,721.5L401.1,726.8L401.3,727.5L401.9,727.9L402.6,727.7L407.2,724.0L411.2,724.8L412.2,729.4L414.2,734.0L414.9,734.5L420.2,734.9L429.2,732.9L433.4,730.8L439.1,725.2L441.4,726.7L444.2,730.4L446.1,736.3L446.7,736.8L447.4,736.8L449.4,735.8L449.8,735.3L453.8,725.4L455.5,722.0L458.5,722.8L461.3,726.5L461.8,726.9L462.5,726.7L465.5,724.7L467.7,721.6L470.6,718.6L470.9,718.0L470.9,715.4L469.9,711.8L469.2,711.1L460.4,709.2L457.8,707.5L456.9,703.0L457.9,698.2L457.8,697.6L457.3,697.2L452.3,695.1L446.3,693.2L442.4,691.2L441.6,691.2L437.7,693.1Z"/>
<path id="LU" fill="#9fe0b0" d="M401.2,651.2L409.4,652.4L410.1,652.2L411.9,650.5L414.6,646.6L414.6,645.7L413.3,643.5L411.1,640.8L409.5,638.5L409.1,636.1L408.6,635.4L407.8,635.4L404.4,637.0L402.2,640.1L400.5,643.6L400.0,647.6L400.5,650.5L400.8,651.0Z"/>
<path id="DE" fill="#8dd5aa" d="M411.2,654.7L411.1,655.2L411.5,655.7L414.1,657.7L417.5,659.7L420.8,660.4L421.5,660.2L423.8,660.9L436.5,665.4L433.2,669.6L427.2,681.6L425.1,694.9L425.1,696.0L425.4,696.7L426.1,696.9L438.1,694.9L442.0,693.0L445.7,694.9L462.6,700.8L466.5,703.7L467.1,703.9L467.7,703.5L470.5,699.8L476.1,698.9L482.1,698.9L500.1,695.9L504.1,694.0L507.4,694.8L509.3,697.5L509.8,697.9L510.4,697.8L510.9,697.3L511.9,694.3L511.7,693.5L509.6,690.4L506.8,687.6L506.0,683.4L510.4,680.8L515.3,678.8L515.9,678.2L516.8,674.6L520.5,672.2L520.9,671.6L520.7,670.9L517.6,666.3L512.6,662.4L500.8,647.5L499.0,644.0L500.8,640.4L500.9,639.9L500.6,639.4L496.6,635.4L495.8,635.0L506.4,629.8L512.5,625.8L524.4,619.8L527.0,618.1L529.5,619.7L530.2,619.9L533.6,619.3L534.1,618.9L534.3,618.2L532.9,611.8L531.9,605.9L528.9,599.7L525.9,581.9L521.8,575.6L521.0,573.1L523.8,568.5L523.9,567.9L522.9,561.8L521.1,553.9L520.6,553.2L518.2,552.0L514.3,549.4L510.1,545.3L503.5,541.3L502.9,541.2L497.1,542.0L493.1,544.7L489.1,548.0L485.1,550.7L481.5,554.3L478.1,552.0L475.0,551.0L477.0,547.9L477.1,547.3L476.8,546.7L472.6,544.0L467.3,541.3L463.4,540.0L460.9,536.8L458.1,534.7L452.3,533.2L447.0,532.5L446.4,532.6L446.0,533.1L446.0,533.7L449.3,542.3L449.9,547.4L449.3,552.7L449.4,553.2L452.5,554.9L455.7,555.6L460.5,562.8L460.1,563.4L458.9,562.2L456.2,558.2L453.5,555.5L452.9,555.2L448.2,555.2L444.5,556.6L443.9,557.4L443.3,563.3L442.2,566.4L440.1,566.0L438.3,563.1L437.0,559.2L436.6,558.7L436.0,558.6L430.6,559.3L425.9,560.6L425.3,561.2L423.9,565.7L424.6,566.4L426.9,567.0L426.4,568.5L424.6,570.5L422.1,580.3L418.7,581.5L418.2,581.9L416.9,584.0L416.8,584.8L417.4,585.3L420.3,586.2L422.4,587.6L422.4,589.7L420.5,591.5L416.3,594.5L415.9,595.2L416.2,596.0L417.9,597.3L417.5,598.3L414.8,598.6L412.0,597.4L411.4,597.4L408.1,598.4L405.6,600.6L406.5,603.7L408.8,605.8L410.3,607.6L409.9,610.0L408.3,611.9L407.0,614.6L405.7,616.3L405.6,617.1L406.4,619.1L406.0,621.2L404.5,623.1L404.3,623.8L404.6,624.4L406.3,625.7L409.6,629.0L410.6,631.3L408.7,633.6L407.4,635.7L407.3,636.4L407.9,639.3L409.7,642.0L411.8,644.5L412.7,646.1L410.5,649.4L408.9,650.9L408.6,651.5L408.8,652.2Z"/>
<path id="DE_rugen" fill="#8dd5aa" stroke="none" d="M505.7,540.7L508.3,540.1L511.0,542.8L509.7,544.8L507.0,543.4Z"/>
<path id="ES_mallorca" fill="#8dd5aa" stroke="none" d="M331.3,868.7L342.0,863.3L347.3,867.3L348.7,871.3L344.7,874.0L340.7,875.3L335.3,872.7Z"/>
<path id="ES_menorca" fill="#8dd5aa" stroke="none" d="M356.7,862.0L362.0,862.8L362.0,864.7L357.5,863.9Z"/>
<path id="ES_ibiza" fill="#8dd5aa" stroke="none" d="M326.0,875.3L329.2,874.5L330.0,877.2L326.5,878.0Z"/>
<path id="IT_sicily" fill="#8dd5aa" stroke="none" d="M508.7,914.0L514.0,910.0L520.7,907.3L527.3,910.0L536.7,910.0L544.7,908.7L560.7,903.3L559.3,911.3L556.7,919.3L555.3,926.0L558.0,931.3L554.0,935.3L547.3,935.3L534.0,927.3L527.3,924.7L520.7,920.7L514.0,918.0Z"/>
<path id="IT_sardinia" fill="#8dd5aa" stroke="none" d="M433.0,849.0L440.0,847.0L446.0,844.0L450.0,841.0L455.0,843.0L457.0,849.0L458.0,855.0L456.0,862.0L457.0,870.0L456.0,878.0L453.0,884.0L449.0,885.0L446.0,882.0L444.0,888.0L440.0,890.0L437.0,886.0L436.0,880.0L437.0,872.0L436.0,864.0L434.0,856.0Z"/>
<path id="TR_eu" fill="#a0e0b0" d="M762.8,785.1L758.9,786.1L753.6,786.2L749.5,788.2L739.5,794.2L735.7,797.1L734.4,797.3L734.1,797.9L734.3,798.5L734.8,798.9L739.7,799.9L743.2,801.6L744.0,804.8L741.3,808.5L739.2,812.6L739.1,817.8L738.2,819.6L738.1,820.2L738.4,820.7L741.4,823.1L742.1,823.3L748.3,822.8L753.3,820.8L757.4,818.8L762.7,809.6L766.4,806.8L772.2,804.9L778.1,803.9L784.6,803.9L785.2,803.6L785.5,803.0L785.5,796.6L785.3,796.0L784.8,795.7L782.2,795.1L776.2,794.1L769.4,792.2L765.7,789.4L763.8,785.6L763.4,785.2Z"/>
<path id="TR" fill="#a0e0b0" d="M815.7,790.1L799.8,794.1L785.9,795.7L785.3,796.0L785.1,796.6L785.1,803.0L785.3,803.6L785.9,803.9L791.9,804.9L798.1,803.9L800.8,803.9L799.5,805.2L793.7,807.1L788.5,810.2L788.2,810.7L788.1,811.2L789.0,814.6L786.7,816.1L773.9,818.1L768.6,821.2L764.8,823.1L760.1,823.1L755.2,822.1L754.5,822.2L749.5,825.2L745.5,828.3L744.2,830.6L743.1,836.8L742.1,839.7L742.1,840.3L744.1,846.3L744.6,846.8L745.2,846.9L752.2,844.9L755.8,843.5L755.1,846.8L755.2,847.5L758.2,852.5L761.8,856.1L759.3,859.4L754.4,863.3L754.1,864.0L754.4,864.7L759.4,868.7L760.2,868.9L763.9,867.8L762.5,869.2L757.7,871.2L754.5,873.3L754.1,873.8L754.3,874.5L754.9,874.9L767.6,876.8L771.2,880.4L772.1,886.1L772.7,886.8L777.4,888.7L779.7,891.8L776.5,894.3L776.1,894.8L776.2,895.5L776.7,895.9L779.7,896.9L780.3,896.8L788.2,893.9L793.4,893.0L795.2,897.3L795.8,897.9L796.5,897.7L800.0,895.1L803.5,897.7L804.2,897.9L808.4,897.0L810.1,902.3L810.8,902.9L821.9,904.9L822.5,904.7L830.4,898.8L834.2,897.9L834.7,897.6L834.9,897.0L834.9,892.0L834.0,887.4L838.4,883.9L846.0,882.9L861.7,884.9L867.5,888.8L872.5,891.8L873.2,891.9L877.2,890.9L882.4,887.8L888.5,885.8L893.5,882.8L896.6,879.6L897.8,874.4L901.6,868.6L907.3,864.9L914.0,863.9L918.8,864.9L919.4,864.8L919.8,864.4L921.7,860.5L925.6,856.6L928.4,853.0L931.3,853.8L933.0,857.9L930.2,862.5L929.1,866.3L934.3,870.6L936.3,873.5L936.8,873.9L937.4,873.8L937.9,873.3L938.9,870.3L939.8,865.6L943.4,863.8L943.9,863.1L943.6,862.4L941.8,860.5L939.9,854.9L940.7,850.9L948.0,850.9L954.1,849.9L954.6,849.6L964.5,839.8L970.0,837.9L976.2,839.3L982.5,837.8L990.5,832.8L996.6,827.7L1002.7,819.6L1008.5,814.8L1016.3,811.8L1022.4,808.8L1027.6,804.7L1030.4,801.0L1034.8,801.9L1035.5,801.7L1035.9,801.1L1036.8,795.6L1042.3,792.8L1050.2,790.9L1056.1,789.9L1056.8,789.4L1058.6,785.9L1061.4,785.9L1063.2,789.4L1063.7,789.8L1064.4,789.8L1064.8,789.3L1066.7,784.6L1070.5,782.4L1070.9,781.9L1070.8,781.3L1070.4,780.8L1065.7,778.3L1062.8,772.6L1062.1,772.1L1055.9,771.2L1055.9,762.0L1055.6,761.4L1051.7,757.4L1047.8,752.5L1044.6,746.4L1040.3,742.1L1044.6,738.7L1044.9,737.9L1043.9,728.9L1043.7,728.4L1043.2,728.1L1037.7,727.1L1031.8,729.1L1026.5,730.0L1023.9,725.7L1022.9,717.9L1022.6,717.4L1018.6,713.4L1006.3,709.1L999.1,708.1L998.5,708.3L998.1,708.8L997.3,712.3L989.8,714.1L989.3,714.5L987.5,717.2L981.9,718.1L981.2,718.6L978.3,724.5L973.3,729.5L968.3,736.4L963.6,740.2L949.5,743.3L943.5,747.3L938.6,752.2L932.0,753.5L926.2,752.1L925.6,752.2L921.7,754.1L916.1,755.1L912.0,753.1L907.0,753.1L906.4,753.3L901.9,756.9L898.6,755.3L895.7,751.5L895.2,751.1L894.7,751.2L889.7,753.2L884.0,755.0L879.8,753.3L878.9,749.8L878.4,749.2L876.4,748.2L875.7,748.2L875.1,748.7L874.3,751.3L867.7,754.1L851.6,758.2L845.5,761.3L839.5,765.3L835.3,769.4L823.3,784.4L821.4,788.3Z"/>
<path id="NO_lof0" fill="#73b18a" stroke="none" d="M504.0,219.0L507.0,217.0L509.6,218.4L508.0,221.0L505.0,221.6Z"/>
<path id="NO_lof1" fill="#73b18a" stroke="none" d="M510.4,214.4L514.0,212.4L516.4,214.0L515.0,217.0L511.6,217.6Z"/>
<path id="NO_lof2" fill="#73b18a" stroke="none" d="M517.0,209.0L521.0,207.0L524.4,208.0L525.0,211.0L522.0,212.4L518.4,212.0Z"/>
<path id="NO_lof3" fill="#73b18a" stroke="none" d="M520.0,200.0L524.0,198.0L528.0,199.0L530.0,202.4L527.0,205.0L522.4,204.0Z"/>
<path id="NO_lof4" fill="#73b18a" stroke="none" d="M528.0,193.0L532.0,191.0L534.4,193.0L533.6,196.4L530.0,197.0Z"/>
<path id="NO_lof5" fill="#73b18a" stroke="none" d="M496.0,229.6L497.6,229.2L497.8,231.0L496.2,231.2Z"/>
<path id="NO_lof6" fill="#73b18a" stroke="none" d="M540.0,187.0L543.0,185.0L545.6,186.4L544.4,189.2L541.2,189.6Z"/>
<path id="NO_lof7" fill="#73b18a" stroke="none" d="M549.0,179.0L552.0,177.6L554.4,179.2L553.0,181.6L550.0,181.6Z"/>
<path id="NO_lof8" fill="#73b18a" stroke="none" d="M567.0,164.0L570.0,162.4L572.0,164.4L570.4,167.0L567.6,166.6Z"/>
<path fill="#fff" stroke="none" d="M532.0,424.0L538.0,422.0L544.0,421.0L547.0,419.0L549.0,417.0L552.0,419.0L558.0,422.0L560.0,426.0L554.0,424.4L550.0,425.0L547.0,427.0L540.0,425.6L534.0,426.4Z"/>
<path fill="#fff" stroke="none" d="M416.7,389.5L422.1,388.9L426.1,386.8L430.1,385.5L432.8,382.8L436.1,382.2L437.5,384.2L436.1,386.8L438.1,388.9L438.8,390.9L436.1,391.5L434.1,390.2L432.8,392.9L433.4,396.2L431.4,397.5L428.8,396.2L428.1,392.9L426.1,390.9L422.1,391.5L418.1,390.9Z"/>
<path fill="#fff" stroke="none" d="M288.0,727.0L290.0,728.0L292.4,735.0L294.4,740.0L296.4,743.6L295.0,745.0L293.0,741.0L290.4,735.6Z"/>
<path fill="#fff" stroke="none" d="M395.7,575.0L398.3,574.1L400.9,575.9L403.4,575.9L406.0,576.7L405.2,579.3L402.6,580.6L400.0,582.3L397.8,584.5L396.1,586.2L394.4,585.3L395.7,582.8L396.6,580.2L396.1,577.6Z"/>
<path fill="#fff" stroke="none" d="M483.6,340.1L485.6,341.4L486.0,346.7L485.2,352.1L483.6,351.4L482.9,346.1Z"/>
<path fill="#fff" stroke="none" d="M578.0,164.0L580.0,165.0L581.0,172.0L582.4,178.0L580.0,177.0L578.6,170.0Z"/>
<path fill="#fff" stroke="none" d="M588.0,157.0L590.0,158.0L591.0,163.0L589.0,162.0Z"/>
<path fill="#fff" stroke="none" d="M560.0,178.0L563.0,179.0L565.6,184.0L563.0,183.0Z"/>
<path fill="#fff" stroke="none" d="M597.0,154.0L598.6,154.4L599.2,159.0L597.6,158.0Z"/>
<path fill="none" stroke-width="1.6" stroke-linecap="round" d="M444.4,488.0L449.0,486.4L452.4,488.0L453.6,492.0L455.0,487.6L459.6,485.2"/>
<path fill="none" stroke-width="1.3" stroke-linecap="round" d="M371.6,606.2L375.9,605.2L379.3,606.0"/>
<path fill="none" stroke-width="1.3" stroke-linecap="round" d="M370.7,608.3L375.0,608.6L378.4,610.3"/>
<circle cx="323.6" cy="801.2" r="2.1" fill="#cfd1d2" stroke-width="0.8"/>
<circle cx="414.2" cy="782.2" r="2.1" fill="#cfd1d2" stroke-width="0.8"/>
</g>
<g id="leaders">
<line x1="143.0" y1="230.4" x2="184.4" y2="261.0" stroke="#555" stroke-width="1.2"/>
<line x1="184.0" y1="517.4" x2="226.0" y2="548.0" stroke="#555" stroke-width="1.2"/>
<line x1="113.6" y1="814.4" x2="147.4" y2="835.6" stroke="#555" stroke-width="1.2"/>
<line x1="673.0" y1="413.0" x2="657.0" y2="429.0" stroke="#555" stroke-width="1.2"/>
<line x1="700.0" y1="444.4" x2="666.0" y2="466.0" stroke="#555" stroke-width="1.2"/>
<line x1="421.0" y1="496.0" x2="450.0" y2="513.0" stroke="#555" stroke-width="1.2"/>
<line x1="392.0" y1="563.6" x2="406.0" y2="580.0" stroke="#555" stroke-width="1.2"/>
<line x1="509.5" y1="804.7" x2="496.0" y2="854.8" stroke="#555" stroke-width="1.2"/>
</g>
<g id="labels">
<text x="106.3" y="210.5" font-size="20.6" textLength="15.0" lengthAdjust="spacingAndGlyphs" fill="#454545" font-weight="bold">IS</text>
<text x="83.0" y="231.7" font-size="21.0" textLength="58.3" lengthAdjust="spacingAndGlyphs" fill="#454545">22.0%</text>
<text x="93.0" y="252.5" font-size="21.0" textLength="36.3" lengthAdjust="spacingAndGlyphs" fill="#454545">#18</text>
<text x="415.0" y="283.7" font-size="20.6" textLength="30.0" lengthAdjust="spacingAndGlyphs" fill="#454545" font-weight="bold">NO</text>
<text x="401.0" y="306.0" font-size="21.0" textLength="58.4" lengthAdjust="spacingAndGlyphs" fill="#454545">35.2%</text>
<text x="419.0" y="327.7" font-size="21.0" textLength="23.0" lengthAdjust="spacingAndGlyphs" fill="#454545">#4</text>
<text x="145.0" y="498.4" font-size="20.6" textLength="16.0" lengthAdjust="spacingAndGlyphs" fill="#454545" font-weight="bold">IE</text>
<text x="124.4" y="518.4" font-size="21.0" textLength="58.0" lengthAdjust="spacingAndGlyphs" fill="#454545">51.0%</text>
<text x="140.6" y="539.0" font-size="21.0" textLength="22.4" lengthAdjust="spacingAndGlyphs" fill="#454545">#1</text>
<text x="72.0" y="795.6" font-size="20.6" textLength="25.0" lengthAdjust="spacingAndGlyphs" fill="#454545" font-weight="bold">PT</text>
<text x="51.0" y="816.6" font-size="21.0" textLength="58.0" lengthAdjust="spacingAndGlyphs" fill="#454545">28.0%</text>
<text x="69.0" y="835.0" font-size="21.0" textLength="23.4" lengthAdjust="spacingAndGlyphs" fill="#454545">#9</text>
<text x="43.6" y="581.0" font-size="20.6" textLength="24.4" lengthAdjust="spacingAndGlyphs" fill="#454545" font-weight="bold">BE</text>
<text x="49.6" y="608.0" font-size="21.0" textLength="58.4" lengthAdjust="spacingAndGlyphs" fill="#454545">30.0%</text>
<text x="84.4" y="628.0" font-size="21.0" textLength="23.6" lengthAdjust="spacingAndGlyphs" fill="#454545">#6</text>
<rect x="73.7" y="557.4" width="32.3" height="32.3" fill="#85c79d"/>
<text x="43.0" y="673.6" font-size="20.6" textLength="24.6" lengthAdjust="spacingAndGlyphs" fill="#454545" font-weight="bold">LU</text>
<text x="48.6" y="702.4" font-size="21.0" textLength="58.4" lengthAdjust="spacingAndGlyphs" fill="#454545">21.0%</text>
<text x="71.0" y="722.4" font-size="21.0" textLength="36.0" lengthAdjust="spacingAndGlyphs" fill="#454545">#19</text>
<rect x="73.3" y="650.0" width="31.7" height="32.3" fill="#9fe0b0"/>
<text x="980.0" y="226.6" font-size="20.6" textLength="22.4" lengthAdjust="spacingAndGlyphs" fill="#454545" font-weight="bold">LT</text>
<text x="981.6" y="254.6" font-size="21.0" textLength="58.0" lengthAdjust="spacingAndGlyphs" fill="#454545">15.0%</text>
<text x="1003.6" y="274.4" font-size="21.0" textLength="36.0" lengthAdjust="spacingAndGlyphs" fill="#454545">#22</text>
<rect x="1009.0" y="203.4" width="30.7" height="30.3" fill="#b4e8b3"/>
<text x="975.0" y="321.0" font-size="20.6" textLength="25.6" lengthAdjust="spacingAndGlyphs" fill="#454545" font-weight="bold">CZ</text>
<text x="981.0" y="351.4" font-size="21.0" textLength="58.6" lengthAdjust="spacingAndGlyphs" fill="#454545">23.0%</text>
<text x="1003.6" y="370.0" font-size="21.0" textLength="36.0" lengthAdjust="spacingAndGlyphs" fill="#454545">#16</text>
<rect x="1009.0" y="299.6" width="30.7" height="30.4" fill="#9adcae"/>
<text x="975.0" y="412.0" font-size="20.6" textLength="25.0" lengthAdjust="spacingAndGlyphs" fill="#454545">SK</text>
<text x="993.0" y="441.0" font-size="21.0" textLength="46.6" lengthAdjust="spacingAndGlyphs" fill="#454545">7.0%</text>
<text x="1003.6" y="460.0" font-size="21.0" textLength="36.0" lengthAdjust="spacingAndGlyphs" fill="#454545">#24</text>
<rect x="1008.0" y="389.0" width="32.6" height="32.6" fill="#cdf4b8"/>
<text x="976.0" y="506.6" font-size="20.6" textLength="26.0" lengthAdjust="spacingAndGlyphs" fill="#454545" font-weight="bold">AT</text>
<text x="981.0" y="534.6" font-size="21.0" textLength="58.6" lengthAdjust="spacingAndGlyphs" fill="#454545">27.5%</text>
<text x="1003.6" y="553.6" font-size="21.0" textLength="36.0" lengthAdjust="spacingAndGlyphs" fill="#454545">#10</text>
<rect x="1008.0" y="482.0" width="32.6" height="32.4" fill="#89d1a5"/>
<text x="973.0" y="601.0" font-size="20.6" textLength="30.0" lengthAdjust="spacingAndGlyphs" fill="#454545" font-weight="bold">HU</text>
<text x="981.6" y="629.0" font-size="21.0" textLength="58.0" lengthAdjust="spacingAndGlyphs" fill="#454545">15.0%</text>
<text x="1003.6" y="649.0" font-size="21.0" textLength="36.0" lengthAdjust="spacingAndGlyphs" fill="#454545">#22</text>
<rect x="1009.0" y="578.0" width="30.7" height="30.6" fill="#b4e8b3"/>
<text x="348.7" y="974.0" font-size="20.6" textLength="29.3" lengthAdjust="spacingAndGlyphs" fill="#454545" font-weight="bold">CH</text>
<text x="364.0" y="1004.0" font-size="21.0" textLength="59.3" lengthAdjust="spacingAndGlyphs" fill="#454545">22.3%</text>
<text x="384.7" y="1024.0" font-size="21.0" textLength="36.0" lengthAdjust="spacingAndGlyphs" fill="#454545">#17</text>
<rect x="388.0" y="952.7" width="30.8" height="30.2" fill="#9cdeaf"/>
<text x="463.3" y="974.0" font-size="20.6" textLength="17.4" lengthAdjust="spacingAndGlyphs" fill="#454545" font-weight="bold">SI</text>
<text x="463.3" y="1004.0" font-size="21.0" textLength="58.7" lengthAdjust="spacingAndGlyphs" fill="#454545">27.5%</text>
<text x="488.0" y="1024.0" font-size="21.0" textLength="36.0" lengthAdjust="spacingAndGlyphs" fill="#454545">#10</text>
<rect x="488.0" y="953.0" width="30.8" height="30.5" fill="#89d1a5"/>
<text x="559.3" y="974.5" font-size="20.6" textLength="28.7" lengthAdjust="spacingAndGlyphs" fill="#454545" font-weight="bold">GR</text>
<text x="580.7" y="1004.7" font-size="21.0" textLength="45.3" lengthAdjust="spacingAndGlyphs" fill="#454545">5.0%</text>
<text x="592.0" y="1025.0" font-size="21.0" textLength="36.0" lengthAdjust="spacingAndGlyphs" fill="#454545">#25</text>
<rect x="592.0" y="952.0" width="30.8" height="30.2" fill="#d6f7ba"/>
<text x="504.3" y="389.3" font-size="20.6" textLength="23.7" lengthAdjust="spacingAndGlyphs" fill="#fff" font-weight="bold">SE</text>
<text x="495.3" y="413.3" font-size="21.0" textLength="58.7" lengthAdjust="spacingAndGlyphs" fill="#fff">30.0%</text>
<text x="504.3" y="436.2" font-size="21.0" textLength="23.2" lengthAdjust="spacingAndGlyphs" fill="#fff">#6</text>
<text x="620.0" y="329.0" font-size="20.6" textLength="17.0" lengthAdjust="spacingAndGlyphs" fill="#fff" font-weight="bold">FI</text>
<text x="599.6" y="351.0" font-size="21.0" textLength="58.4" lengthAdjust="spacingAndGlyphs" fill="#fff">28.9%</text>
<text x="614.0" y="372.0" font-size="21.0" textLength="22.0" lengthAdjust="spacingAndGlyphs" fill="#fff">#8</text>
<text x="679.0" y="370.4" font-size="20.6" textLength="23.0" lengthAdjust="spacingAndGlyphs" fill="#454545" font-weight="bold">EE</text>
<text x="678.0" y="391.0" font-size="21.0" textLength="46.4" lengthAdjust="spacingAndGlyphs" fill="#454545">0.0%</text>
<text x="671.6" y="410.4" font-size="21.0" textLength="35.4" lengthAdjust="spacingAndGlyphs" fill="#454545">#26</text>
<text x="709.0" y="429.0" font-size="20.6" textLength="24.6" lengthAdjust="spacingAndGlyphs" fill="#454545" font-weight="bold">LV</text>
<text x="706.6" y="450.0" font-size="21.0" textLength="45.4" lengthAdjust="spacingAndGlyphs" fill="#454545">0.0%</text>
<text x="699.0" y="469.6" font-size="21.0" textLength="36.0" lengthAdjust="spacingAndGlyphs" fill="#454545">#26</text>
<text x="221.0" y="438.0" font-size="20.6" textLength="28.0" lengthAdjust="spacingAndGlyphs" fill="#454545" font-weight="bold">GB</text>
<text x="206.0" y="460.6" font-size="21.0" textLength="57.6" lengthAdjust="spacingAndGlyphs" fill="#454545">39.4%</text>
<text x="225.6" y="482.0" font-size="21.0" textLength="24.0" lengthAdjust="spacingAndGlyphs" fill="#454545">#3</text>
<text x="377.0" y="475.0" font-size="20.6" textLength="29.0" lengthAdjust="spacingAndGlyphs" fill="#454545" font-weight="bold">DK</text>
<text x="362.0" y="494.5" font-size="21.0" textLength="58.0" lengthAdjust="spacingAndGlyphs" fill="#454545">42.0%</text>
<text x="380.0" y="513.5" font-size="21.0" textLength="23.0" lengthAdjust="spacingAndGlyphs" fill="#454545">#2</text>
<text x="366.0" y="538.0" font-size="20.6" textLength="24.0" lengthAdjust="spacingAndGlyphs" fill="#454545" font-weight="bold">NL</text>
<text x="347.0" y="557.0" font-size="21.0" textLength="58.0" lengthAdjust="spacingAndGlyphs" fill="#454545">26.9%</text>
<text x="353.0" y="575.0" font-size="21.0" textLength="35.0" lengthAdjust="spacingAndGlyphs" fill="#454545">#12</text>
<text x="446.0" y="608.6" font-size="20.6" textLength="26.6" lengthAdjust="spacingAndGlyphs" fill="#fff" font-weight="bold">DE</text>
<text x="432.4" y="630.4" font-size="21.0" textLength="58.0" lengthAdjust="spacingAndGlyphs" fill="#fff">26.4%</text>
<text x="439.4" y="651.4" font-size="21.0" textLength="36.0" lengthAdjust="spacingAndGlyphs" fill="#fff">#13</text>
<text x="581.0" y="570.0" font-size="20.6" textLength="22.0" lengthAdjust="spacingAndGlyphs" fill="#454545" font-weight="bold">PL</text>
<text x="567.0" y="590.4" font-size="21.0" textLength="57.4" lengthAdjust="spacingAndGlyphs" fill="#454545">19.0%</text>
<text x="577.0" y="611.0" font-size="21.0" textLength="35.0" lengthAdjust="spacingAndGlyphs" fill="#454545">#21</text>
<text x="335.6" y="708.6" font-size="20.6" textLength="24.4" lengthAdjust="spacingAndGlyphs" fill="#fff" font-weight="bold">FR</text>
<text x="318.0" y="730.4" font-size="21.0" textLength="58.0" lengthAdjust="spacingAndGlyphs" fill="#fff">34.0%</text>
<text x="334.4" y="751.0" font-size="21.0" textLength="23.2" lengthAdjust="spacingAndGlyphs" fill="#fff">#5</text>
<text x="218.0" y="836.0" font-size="20.6" textLength="22.0" lengthAdjust="spacingAndGlyphs" fill="#fff" font-weight="bold">ES</text>
<text x="201.0" y="858.0" font-size="21.0" textLength="58.0" lengthAdjust="spacingAndGlyphs" fill="#fff">26.0%</text>
<text x="214.0" y="880.4" font-size="21.0" textLength="35.0" lengthAdjust="spacingAndGlyphs" fill="#fff">#14</text>
<text x="478.5" y="871.3" font-size="20.6" textLength="15.5" lengthAdjust="spacingAndGlyphs" fill="#454545" font-weight="bold">IT</text>
<text x="460.7" y="892.0" font-size="21.0" textLength="58.1" lengthAdjust="spacingAndGlyphs" fill="#454545">26.0%</text>
<text x="467.9" y="912.7" font-size="21.0" textLength="35.4" lengthAdjust="spacingAndGlyphs" fill="#454545">#14</text>
<text x="813.0" y="829.6" font-size="20.6" textLength="26.0" lengthAdjust="spacingAndGlyphs" fill="#454545" font-weight="bold">TR</text>
<text x="798.0" y="851.0" font-size="21.0" textLength="58.4" lengthAdjust="spacingAndGlyphs" fill="#454545">20.0%</text>
<text x="805.6" y="872.0" font-size="21.0" textLength="35.4" lengthAdjust="spacingAndGlyphs" fill="#454545">#20</text>
</g>
<g id="legend">
<text x="798.5" y="975.0" font-size="19.6" textLength="341.5" lengthAdjust="spacingAndGlyphs" fill="#4a4a4a" style="stroke:#4a4a4a;stroke-width:0.45px">Net Top Statutory Dividend Tax Rate</text>
<text x="834.5" y="998.3" font-size="19.6" textLength="268.5" lengthAdjust="spacingAndGlyphs" fill="#4a4a4a" style="stroke:#4a4a4a;stroke-width:0.45px">Paid at the Shareholder Level</text>
<rect x="810.0" y="1010.7" width="20.2" height="45.3" fill="#e3fdc0"/>
<rect x="839.8" y="1010.7" width="20.2" height="45.3" fill="#d1f4b9"/>
<rect x="869.7" y="1010.7" width="20.2" height="45.3" fill="#b9e9b5"/>
<rect x="899.5" y="1010.7" width="20.2" height="45.3" fill="#aee4b2"/>
<rect x="929.3" y="1010.7" width="20.2" height="45.3" fill="#9edfb0"/>
<rect x="959.1" y="1010.7" width="20.2" height="45.3" fill="#8bd4a9"/>
<rect x="989.0" y="1010.7" width="20.2" height="45.3" fill="#82c69b"/>
<rect x="1018.8" y="1010.7" width="20.2" height="45.3" fill="#6fa97f"/>
<rect x="1048.6" y="1010.7" width="20.2" height="45.3" fill="#5d9565"/>
<rect x="1078.5" y="1010.7" width="20.2" height="45.3" fill="#497b4c"/>
<rect x="1108.3" y="1010.7" width="20.2" height="45.3" fill="#3d6b35"/>
<text x="810.0" y="1081.7" font-size="20.3" textLength="55.0" lengthAdjust="spacingAndGlyphs" fill="#4a4a4a" style="stroke:#4a4a4a;stroke-width:0.45px">Lower</text>
<text x="1071.7" y="1081.7" font-size="20.3" textLength="61.0" lengthAdjust="spacingAndGlyphs" fill="#4a4a4a" style="stroke:#4a4a4a;stroke-width:0.45px">Higher</text>
</g>
<g id="notes">
<text x="39.3" y="1080.0" font-size="16.6" textLength="678.4" lengthAdjust="spacingAndGlyphs" fill="#6b6b6b">Note: All types of reliefs and gross-up provisions at the shareholder level are taken into account.</text>
<text x="39.3" y="1103.3" font-size="16.6" textLength="627.4" lengthAdjust="spacingAndGlyphs" fill="#6b6b6b">Source: OECD, "Tax Database: Table II.4. Overall statutory tax rates on dividend income."</text>
</g>
<g id="footer">
<rect x="0" y="1118.3" width="1200" height="41.7" fill="#0094ff"/>
<text x="36.0" y="1146.0" font-size="22.6" textLength="185.7" lengthAdjust="spacingAndGlyphs" fill="#fff">TAX FOUNDATION</text>
<text x="998.3" y="1143.5" font-size="19.8" textLength="150.7" lengthAdjust="spacingAndGlyphs" fill="#fff" font-weight="bold">@TaxFoundation</text>
</g>
</svg>
</body>
</html>
